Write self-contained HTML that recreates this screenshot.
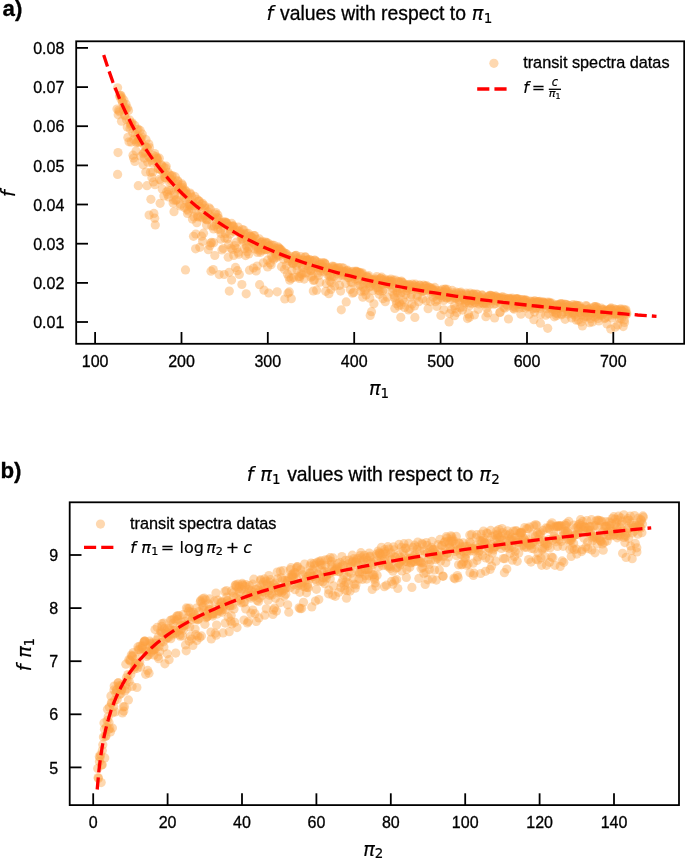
<!DOCTYPE html>
<html><head><meta charset="utf-8"><title>f values</title>
<style>html,body{margin:0;padding:0;background:#fff}svg{display:block;font-family:'Liberation Sans',sans-serif}text{stroke:#000;stroke-width:.3px}.m{stroke-width:.18px}</style>
</head><body>
<svg width="685" height="859" viewBox="0 0 685 859">
<rect width="685" height="859" fill="#fff"/>
<g fill="#fda342" fill-opacity="0.42">
<circle cx="117.0" cy="109.1" r="4.6"/>
<circle cx="117.6" cy="87.8" r="4.6"/>
<circle cx="118.0" cy="152.6" r="4.6"/>
<circle cx="118.2" cy="114.8" r="4.6"/>
<circle cx="118.7" cy="110.3" r="4.6"/>
<circle cx="119.4" cy="111.8" r="4.6"/>
<circle cx="119.5" cy="96.0" r="4.6"/>
<circle cx="120.3" cy="95.5" r="4.6"/>
<circle cx="120.8" cy="95.3" r="4.6"/>
<circle cx="121.1" cy="99.2" r="4.6"/>
<circle cx="121.5" cy="121.2" r="4.6"/>
<circle cx="121.9" cy="97.8" r="4.6"/>
<circle cx="122.4" cy="101.9" r="4.6"/>
<circle cx="122.9" cy="103.1" r="4.6"/>
<circle cx="123.4" cy="109.4" r="4.6"/>
<circle cx="123.9" cy="100.2" r="4.6"/>
<circle cx="124.6" cy="114.9" r="4.6"/>
<circle cx="124.9" cy="115.8" r="4.6"/>
<circle cx="125.3" cy="108.2" r="4.6"/>
<circle cx="126.0" cy="104.3" r="4.6"/>
<circle cx="126.1" cy="109.1" r="4.6"/>
<circle cx="126.5" cy="119.6" r="4.6"/>
<circle cx="127.2" cy="127.0" r="4.6"/>
<circle cx="127.4" cy="107.9" r="4.6"/>
<circle cx="127.8" cy="137.4" r="4.6"/>
<circle cx="128.5" cy="110.6" r="4.6"/>
<circle cx="129.0" cy="141.8" r="4.6"/>
<circle cx="129.6" cy="119.9" r="4.6"/>
<circle cx="130.0" cy="128.7" r="4.6"/>
<circle cx="130.4" cy="123.8" r="4.6"/>
<circle cx="130.8" cy="125.5" r="4.6"/>
<circle cx="131.2" cy="142.1" r="4.6"/>
<circle cx="131.5" cy="123.6" r="4.6"/>
<circle cx="132.1" cy="122.8" r="4.6"/>
<circle cx="132.8" cy="132.8" r="4.6"/>
<circle cx="133.0" cy="155.2" r="4.6"/>
<circle cx="133.6" cy="158.1" r="4.6"/>
<circle cx="133.9" cy="139.6" r="4.6"/>
<circle cx="134.7" cy="125.4" r="4.6"/>
<circle cx="134.9" cy="161.4" r="4.6"/>
<circle cx="135.4" cy="134.1" r="4.6"/>
<circle cx="136.1" cy="151.0" r="4.6"/>
<circle cx="136.4" cy="142.7" r="4.6"/>
<circle cx="137.0" cy="129.5" r="4.6"/>
<circle cx="137.4" cy="142.0" r="4.6"/>
<circle cx="137.9" cy="136.6" r="4.6"/>
<circle cx="138.1" cy="129.2" r="4.6"/>
<circle cx="138.8" cy="140.3" r="4.6"/>
<circle cx="139.2" cy="142.4" r="4.6"/>
<circle cx="139.8" cy="138.6" r="4.6"/>
<circle cx="140.1" cy="130.4" r="4.6"/>
<circle cx="140.6" cy="138.7" r="4.6"/>
<circle cx="140.9" cy="156.3" r="4.6"/>
<circle cx="141.5" cy="142.0" r="4.6"/>
<circle cx="141.9" cy="137.1" r="4.6"/>
<circle cx="142.3" cy="134.2" r="4.6"/>
<circle cx="143.1" cy="164.8" r="4.6"/>
<circle cx="143.3" cy="153.8" r="4.6"/>
<circle cx="144.1" cy="152.7" r="4.6"/>
<circle cx="144.3" cy="158.1" r="4.6"/>
<circle cx="144.8" cy="146.2" r="4.6"/>
<circle cx="145.3" cy="152.0" r="4.6"/>
<circle cx="145.8" cy="172.0" r="4.6"/>
<circle cx="146.0" cy="139.7" r="4.6"/>
<circle cx="146.6" cy="147.6" r="4.6"/>
<circle cx="147.0" cy="185.7" r="4.6"/>
<circle cx="147.5" cy="148.2" r="4.6"/>
<circle cx="147.8" cy="162.2" r="4.6"/>
<circle cx="148.7" cy="156.4" r="4.6"/>
<circle cx="148.8" cy="144.1" r="4.6"/>
<circle cx="149.5" cy="147.5" r="4.6"/>
<circle cx="149.8" cy="157.9" r="4.6"/>
<circle cx="150.5" cy="172.3" r="4.6"/>
<circle cx="150.9" cy="199.3" r="4.6"/>
<circle cx="151.1" cy="160.3" r="4.6"/>
<circle cx="151.9" cy="177.7" r="4.6"/>
<circle cx="152.4" cy="163.0" r="4.6"/>
<circle cx="152.8" cy="172.0" r="4.6"/>
<circle cx="153.2" cy="155.3" r="4.6"/>
<circle cx="153.4" cy="181.9" r="4.6"/>
<circle cx="153.9" cy="213.4" r="4.6"/>
<circle cx="154.7" cy="153.5" r="4.6"/>
<circle cx="155.0" cy="184.7" r="4.6"/>
<circle cx="155.3" cy="224.9" r="4.6"/>
<circle cx="156.1" cy="156.7" r="4.6"/>
<circle cx="156.4" cy="162.8" r="4.6"/>
<circle cx="156.9" cy="158.7" r="4.6"/>
<circle cx="157.2" cy="158.0" r="4.6"/>
<circle cx="157.7" cy="160.2" r="4.6"/>
<circle cx="158.1" cy="168.8" r="4.6"/>
<circle cx="158.5" cy="168.7" r="4.6"/>
<circle cx="159.3" cy="158.2" r="4.6"/>
<circle cx="159.6" cy="179.4" r="4.6"/>
<circle cx="160.1" cy="203.3" r="4.6"/>
<circle cx="160.5" cy="169.6" r="4.6"/>
<circle cx="161.1" cy="180.6" r="4.6"/>
<circle cx="161.3" cy="164.8" r="4.6"/>
<circle cx="161.9" cy="165.9" r="4.6"/>
<circle cx="162.2" cy="189.0" r="4.6"/>
<circle cx="162.7" cy="171.3" r="4.6"/>
<circle cx="163.5" cy="167.0" r="4.6"/>
<circle cx="163.9" cy="195.9" r="4.6"/>
<circle cx="164.2" cy="173.5" r="4.6"/>
<circle cx="164.7" cy="177.3" r="4.6"/>
<circle cx="165.4" cy="177.8" r="4.6"/>
<circle cx="165.6" cy="168.1" r="4.6"/>
<circle cx="166.2" cy="166.2" r="4.6"/>
<circle cx="166.7" cy="191.8" r="4.6"/>
<circle cx="167.0" cy="175.5" r="4.6"/>
<circle cx="167.5" cy="194.3" r="4.6"/>
<circle cx="168.1" cy="172.4" r="4.6"/>
<circle cx="168.6" cy="190.0" r="4.6"/>
<circle cx="168.7" cy="196.9" r="4.6"/>
<circle cx="169.6" cy="182.2" r="4.6"/>
<circle cx="169.6" cy="174.9" r="4.6"/>
<circle cx="170.4" cy="178.8" r="4.6"/>
<circle cx="170.9" cy="190.3" r="4.6"/>
<circle cx="171.0" cy="180.7" r="4.6"/>
<circle cx="171.6" cy="176.2" r="4.6"/>
<circle cx="172.3" cy="175.6" r="4.6"/>
<circle cx="172.4" cy="180.1" r="4.6"/>
<circle cx="173.1" cy="203.0" r="4.6"/>
<circle cx="173.7" cy="200.2" r="4.6"/>
<circle cx="174.0" cy="211.7" r="4.6"/>
<circle cx="174.6" cy="194.7" r="4.6"/>
<circle cx="174.8" cy="191.8" r="4.6"/>
<circle cx="175.3" cy="176.9" r="4.6"/>
<circle cx="175.8" cy="200.2" r="4.6"/>
<circle cx="176.2" cy="185.8" r="4.6"/>
<circle cx="176.7" cy="199.8" r="4.6"/>
<circle cx="177.5" cy="184.1" r="4.6"/>
<circle cx="177.7" cy="180.7" r="4.6"/>
<circle cx="178.1" cy="181.7" r="4.6"/>
<circle cx="178.5" cy="189.2" r="4.6"/>
<circle cx="179.3" cy="188.2" r="4.6"/>
<circle cx="179.5" cy="188.6" r="4.6"/>
<circle cx="180.3" cy="205.9" r="4.6"/>
<circle cx="180.5" cy="204.3" r="4.6"/>
<circle cx="181.0" cy="195.4" r="4.6"/>
<circle cx="181.6" cy="188.2" r="4.6"/>
<circle cx="182.0" cy="183.9" r="4.6"/>
<circle cx="182.4" cy="185.3" r="4.6"/>
<circle cx="182.8" cy="187.4" r="4.6"/>
<circle cx="183.5" cy="192.1" r="4.6"/>
<circle cx="183.7" cy="191.2" r="4.6"/>
<circle cx="184.4" cy="197.8" r="4.6"/>
<circle cx="184.5" cy="207.5" r="4.6"/>
<circle cx="185.1" cy="190.1" r="4.6"/>
<circle cx="185.6" cy="200.1" r="4.6"/>
<circle cx="186.3" cy="191.7" r="4.6"/>
<circle cx="186.4" cy="194.1" r="4.6"/>
<circle cx="187.1" cy="209.4" r="4.6"/>
<circle cx="187.5" cy="213.4" r="4.6"/>
<circle cx="188.0" cy="196.8" r="4.6"/>
<circle cx="188.4" cy="210.9" r="4.6"/>
<circle cx="189.1" cy="204.5" r="4.6"/>
<circle cx="189.2" cy="205.9" r="4.6"/>
<circle cx="189.7" cy="204.3" r="4.6"/>
<circle cx="190.1" cy="193.0" r="4.6"/>
<circle cx="190.5" cy="194.3" r="4.6"/>
<circle cx="191.0" cy="205.5" r="4.6"/>
<circle cx="191.8" cy="197.1" r="4.6"/>
<circle cx="192.3" cy="208.8" r="4.6"/>
<circle cx="192.4" cy="219.1" r="4.6"/>
<circle cx="193.1" cy="202.9" r="4.6"/>
<circle cx="193.5" cy="236.3" r="4.6"/>
<circle cx="194.0" cy="216.9" r="4.6"/>
<circle cx="194.5" cy="205.4" r="4.6"/>
<circle cx="194.8" cy="196.4" r="4.6"/>
<circle cx="195.6" cy="248.8" r="4.6"/>
<circle cx="195.8" cy="234.0" r="4.6"/>
<circle cx="196.3" cy="211.1" r="4.6"/>
<circle cx="196.8" cy="222.7" r="4.6"/>
<circle cx="197.1" cy="199.4" r="4.6"/>
<circle cx="197.5" cy="215.9" r="4.6"/>
<circle cx="198.1" cy="216.9" r="4.6"/>
<circle cx="198.7" cy="201.0" r="4.6"/>
<circle cx="199.2" cy="201.0" r="4.6"/>
<circle cx="199.6" cy="206.5" r="4.6"/>
<circle cx="199.8" cy="247.3" r="4.6"/>
<circle cx="200.6" cy="217.0" r="4.6"/>
<circle cx="201.1" cy="208.5" r="4.6"/>
<circle cx="201.6" cy="236.2" r="4.6"/>
<circle cx="201.9" cy="204.3" r="4.6"/>
<circle cx="202.5" cy="203.3" r="4.6"/>
<circle cx="202.6" cy="241.3" r="4.6"/>
<circle cx="203.0" cy="217.9" r="4.6"/>
<circle cx="203.5" cy="233.2" r="4.6"/>
<circle cx="204.0" cy="215.3" r="4.6"/>
<circle cx="204.5" cy="205.7" r="4.6"/>
<circle cx="204.9" cy="208.1" r="4.6"/>
<circle cx="205.6" cy="215.5" r="4.6"/>
<circle cx="205.8" cy="219.0" r="4.6"/>
<circle cx="206.5" cy="225.1" r="4.6"/>
<circle cx="206.8" cy="220.0" r="4.6"/>
<circle cx="207.5" cy="219.4" r="4.6"/>
<circle cx="207.7" cy="211.8" r="4.6"/>
<circle cx="208.3" cy="249.7" r="4.6"/>
<circle cx="209.0" cy="207.8" r="4.6"/>
<circle cx="209.3" cy="214.7" r="4.6"/>
<circle cx="209.9" cy="245.7" r="4.6"/>
<circle cx="210.3" cy="209.2" r="4.6"/>
<circle cx="210.7" cy="243.1" r="4.6"/>
<circle cx="211.0" cy="271.2" r="4.6"/>
<circle cx="211.6" cy="242.4" r="4.6"/>
<circle cx="211.8" cy="226.0" r="4.6"/>
<circle cx="212.7" cy="217.1" r="4.6"/>
<circle cx="213.2" cy="269.5" r="4.6"/>
<circle cx="213.6" cy="228.9" r="4.6"/>
<circle cx="213.7" cy="242.7" r="4.6"/>
<circle cx="214.3" cy="226.2" r="4.6"/>
<circle cx="214.8" cy="255.5" r="4.6"/>
<circle cx="215.1" cy="214.0" r="4.6"/>
<circle cx="215.8" cy="212.6" r="4.6"/>
<circle cx="216.4" cy="224.8" r="4.6"/>
<circle cx="216.6" cy="219.4" r="4.6"/>
<circle cx="217.3" cy="217.5" r="4.6"/>
<circle cx="217.8" cy="214.9" r="4.6"/>
<circle cx="217.9" cy="229.1" r="4.6"/>
<circle cx="218.7" cy="218.3" r="4.6"/>
<circle cx="219.2" cy="274.6" r="4.6"/>
<circle cx="219.3" cy="224.7" r="4.6"/>
<circle cx="220.0" cy="222.8" r="4.6"/>
<circle cx="220.5" cy="230.0" r="4.6"/>
<circle cx="220.9" cy="239.2" r="4.6"/>
<circle cx="221.1" cy="233.4" r="4.6"/>
<circle cx="221.9" cy="249.9" r="4.6"/>
<circle cx="222.3" cy="222.6" r="4.6"/>
<circle cx="222.9" cy="225.2" r="4.6"/>
<circle cx="223.3" cy="248.5" r="4.6"/>
<circle cx="223.6" cy="222.0" r="4.6"/>
<circle cx="224.2" cy="274.5" r="4.6"/>
<circle cx="224.8" cy="237.9" r="4.6"/>
<circle cx="225.2" cy="221.8" r="4.6"/>
<circle cx="225.4" cy="233.5" r="4.6"/>
<circle cx="225.8" cy="222.8" r="4.6"/>
<circle cx="226.5" cy="222.9" r="4.6"/>
<circle cx="226.8" cy="223.1" r="4.6"/>
<circle cx="227.4" cy="238.8" r="4.6"/>
<circle cx="228.0" cy="226.5" r="4.6"/>
<circle cx="228.2" cy="257.2" r="4.6"/>
<circle cx="228.6" cy="244.4" r="4.6"/>
<circle cx="229.2" cy="272.3" r="4.6"/>
<circle cx="229.8" cy="226.4" r="4.6"/>
<circle cx="230.0" cy="234.1" r="4.6"/>
<circle cx="230.6" cy="230.5" r="4.6"/>
<circle cx="230.9" cy="248.3" r="4.6"/>
<circle cx="231.6" cy="223.4" r="4.6"/>
<circle cx="232.2" cy="226.6" r="4.6"/>
<circle cx="232.4" cy="249.6" r="4.6"/>
<circle cx="232.9" cy="226.2" r="4.6"/>
<circle cx="233.4" cy="225.9" r="4.6"/>
<circle cx="233.7" cy="255.4" r="4.6"/>
<circle cx="234.2" cy="231.8" r="4.6"/>
<circle cx="234.7" cy="245.7" r="4.6"/>
<circle cx="235.2" cy="230.2" r="4.6"/>
<circle cx="235.5" cy="267.4" r="4.6"/>
<circle cx="236.3" cy="242.2" r="4.6"/>
<circle cx="236.7" cy="248.5" r="4.6"/>
<circle cx="237.0" cy="230.0" r="4.6"/>
<circle cx="237.4" cy="270.7" r="4.6"/>
<circle cx="238.2" cy="227.1" r="4.6"/>
<circle cx="238.3" cy="252.3" r="4.6"/>
<circle cx="238.8" cy="254.2" r="4.6"/>
<circle cx="239.3" cy="274.5" r="4.6"/>
<circle cx="239.7" cy="231.4" r="4.6"/>
<circle cx="240.5" cy="234.4" r="4.6"/>
<circle cx="240.7" cy="233.0" r="4.6"/>
<circle cx="241.2" cy="239.4" r="4.6"/>
<circle cx="241.9" cy="284.5" r="4.6"/>
<circle cx="242.3" cy="229.6" r="4.6"/>
<circle cx="242.5" cy="238.7" r="4.6"/>
<circle cx="243.1" cy="241.2" r="4.6"/>
<circle cx="243.8" cy="230.0" r="4.6"/>
<circle cx="244.0" cy="237.2" r="4.6"/>
<circle cx="244.6" cy="234.3" r="4.6"/>
<circle cx="244.8" cy="248.7" r="4.6"/>
<circle cx="245.6" cy="255.6" r="4.6"/>
<circle cx="246.1" cy="233.3" r="4.6"/>
<circle cx="246.5" cy="245.5" r="4.6"/>
<circle cx="246.9" cy="247.0" r="4.6"/>
<circle cx="247.3" cy="251.7" r="4.6"/>
<circle cx="247.6" cy="240.8" r="4.6"/>
<circle cx="248.3" cy="233.4" r="4.6"/>
<circle cx="248.8" cy="253.9" r="4.6"/>
<circle cx="249.0" cy="248.2" r="4.6"/>
<circle cx="249.5" cy="270.2" r="4.6"/>
<circle cx="250.1" cy="236.3" r="4.6"/>
<circle cx="250.7" cy="236.1" r="4.6"/>
<circle cx="251.2" cy="240.2" r="4.6"/>
<circle cx="251.3" cy="241.8" r="4.6"/>
<circle cx="251.8" cy="237.5" r="4.6"/>
<circle cx="252.6" cy="237.8" r="4.6"/>
<circle cx="253.0" cy="242.4" r="4.6"/>
<circle cx="253.5" cy="268.0" r="4.6"/>
<circle cx="254.0" cy="235.7" r="4.6"/>
<circle cx="254.5" cy="235.6" r="4.6"/>
<circle cx="254.9" cy="249.0" r="4.6"/>
<circle cx="255.3" cy="244.2" r="4.6"/>
<circle cx="255.6" cy="246.0" r="4.6"/>
<circle cx="256.2" cy="271.0" r="4.6"/>
<circle cx="256.5" cy="239.4" r="4.6"/>
<circle cx="257.2" cy="266.0" r="4.6"/>
<circle cx="257.6" cy="252.4" r="4.6"/>
<circle cx="258.1" cy="250.0" r="4.6"/>
<circle cx="258.4" cy="248.1" r="4.6"/>
<circle cx="258.9" cy="243.5" r="4.6"/>
<circle cx="259.3" cy="238.9" r="4.6"/>
<circle cx="259.6" cy="284.7" r="4.6"/>
<circle cx="260.5" cy="252.3" r="4.6"/>
<circle cx="260.8" cy="242.4" r="4.6"/>
<circle cx="261.2" cy="250.5" r="4.6"/>
<circle cx="261.7" cy="242.5" r="4.6"/>
<circle cx="262.3" cy="241.3" r="4.6"/>
<circle cx="262.6" cy="244.7" r="4.6"/>
<circle cx="263.3" cy="262.8" r="4.6"/>
<circle cx="263.8" cy="248.6" r="4.6"/>
<circle cx="264.0" cy="290.2" r="4.6"/>
<circle cx="264.3" cy="250.0" r="4.6"/>
<circle cx="265.1" cy="243.5" r="4.6"/>
<circle cx="265.6" cy="249.6" r="4.6"/>
<circle cx="265.7" cy="242.1" r="4.6"/>
<circle cx="266.4" cy="242.7" r="4.6"/>
<circle cx="267.0" cy="249.6" r="4.6"/>
<circle cx="267.5" cy="260.2" r="4.6"/>
<circle cx="267.6" cy="266.9" r="4.6"/>
<circle cx="268.0" cy="243.1" r="4.6"/>
<circle cx="268.9" cy="248.8" r="4.6"/>
<circle cx="269.0" cy="246.0" r="4.6"/>
<circle cx="269.4" cy="246.7" r="4.6"/>
<circle cx="270.1" cy="262.9" r="4.6"/>
<circle cx="270.5" cy="245.0" r="4.6"/>
<circle cx="271.1" cy="264.7" r="4.6"/>
<circle cx="271.3" cy="255.8" r="4.6"/>
<circle cx="272.1" cy="245.1" r="4.6"/>
<circle cx="272.2" cy="258.0" r="4.6"/>
<circle cx="273.0" cy="250.3" r="4.6"/>
<circle cx="273.1" cy="249.6" r="4.6"/>
<circle cx="273.8" cy="259.2" r="4.6"/>
<circle cx="274.0" cy="245.3" r="4.6"/>
<circle cx="274.6" cy="248.0" r="4.6"/>
<circle cx="275.1" cy="250.1" r="4.6"/>
<circle cx="275.7" cy="253.3" r="4.6"/>
<circle cx="276.1" cy="256.2" r="4.6"/>
<circle cx="276.3" cy="257.6" r="4.6"/>
<circle cx="277.2" cy="291.8" r="4.6"/>
<circle cx="277.7" cy="254.5" r="4.6"/>
<circle cx="278.1" cy="246.9" r="4.6"/>
<circle cx="278.3" cy="248.3" r="4.6"/>
<circle cx="278.8" cy="255.9" r="4.6"/>
<circle cx="279.2" cy="248.1" r="4.6"/>
<circle cx="279.6" cy="249.7" r="4.6"/>
<circle cx="280.1" cy="249.8" r="4.6"/>
<circle cx="280.7" cy="249.3" r="4.6"/>
<circle cx="281.0" cy="251.7" r="4.6"/>
<circle cx="281.5" cy="266.7" r="4.6"/>
<circle cx="282.3" cy="251.1" r="4.6"/>
<circle cx="282.6" cy="253.7" r="4.6"/>
<circle cx="282.9" cy="252.9" r="4.6"/>
<circle cx="283.6" cy="259.2" r="4.6"/>
<circle cx="283.9" cy="252.6" r="4.6"/>
<circle cx="284.5" cy="269.4" r="4.6"/>
<circle cx="284.8" cy="299.0" r="4.6"/>
<circle cx="285.4" cy="255.3" r="4.6"/>
<circle cx="285.9" cy="253.7" r="4.6"/>
<circle cx="286.3" cy="265.6" r="4.6"/>
<circle cx="286.7" cy="254.0" r="4.6"/>
<circle cx="287.4" cy="273.9" r="4.6"/>
<circle cx="287.9" cy="258.7" r="4.6"/>
<circle cx="288.0" cy="293.2" r="4.6"/>
<circle cx="288.5" cy="261.1" r="4.6"/>
<circle cx="288.9" cy="277.1" r="4.6"/>
<circle cx="289.8" cy="280.2" r="4.6"/>
<circle cx="290.2" cy="258.4" r="4.6"/>
<circle cx="290.4" cy="256.4" r="4.6"/>
<circle cx="291.2" cy="278.4" r="4.6"/>
<circle cx="291.3" cy="298.7" r="4.6"/>
<circle cx="291.9" cy="270.6" r="4.6"/>
<circle cx="292.3" cy="262.4" r="4.6"/>
<circle cx="293.0" cy="263.7" r="4.6"/>
<circle cx="293.0" cy="263.4" r="4.6"/>
<circle cx="293.6" cy="277.4" r="4.6"/>
<circle cx="294.2" cy="262.6" r="4.6"/>
<circle cx="294.5" cy="256.2" r="4.6"/>
<circle cx="295.0" cy="260.6" r="4.6"/>
<circle cx="295.6" cy="255.7" r="4.6"/>
<circle cx="296.2" cy="255.4" r="4.6"/>
<circle cx="296.6" cy="265.4" r="4.6"/>
<circle cx="297.1" cy="269.8" r="4.6"/>
<circle cx="297.6" cy="258.0" r="4.6"/>
<circle cx="298.0" cy="259.6" r="4.6"/>
<circle cx="298.5" cy="276.8" r="4.6"/>
<circle cx="298.9" cy="263.1" r="4.6"/>
<circle cx="299.4" cy="278.4" r="4.6"/>
<circle cx="299.7" cy="276.5" r="4.6"/>
<circle cx="300.1" cy="260.1" r="4.6"/>
<circle cx="300.8" cy="256.5" r="4.6"/>
<circle cx="301.0" cy="273.3" r="4.6"/>
<circle cx="301.8" cy="264.9" r="4.6"/>
<circle cx="302.1" cy="274.5" r="4.6"/>
<circle cx="302.5" cy="267.6" r="4.6"/>
<circle cx="303.2" cy="260.4" r="4.6"/>
<circle cx="303.3" cy="259.9" r="4.6"/>
<circle cx="303.9" cy="272.7" r="4.6"/>
<circle cx="304.2" cy="279.1" r="4.6"/>
<circle cx="305.1" cy="257.1" r="4.6"/>
<circle cx="305.4" cy="256.9" r="4.6"/>
<circle cx="305.9" cy="265.0" r="4.6"/>
<circle cx="306.2" cy="273.0" r="4.6"/>
<circle cx="306.9" cy="260.9" r="4.6"/>
<circle cx="307.3" cy="260.0" r="4.6"/>
<circle cx="307.7" cy="259.8" r="4.6"/>
<circle cx="308.3" cy="265.5" r="4.6"/>
<circle cx="308.5" cy="269.2" r="4.6"/>
<circle cx="309.0" cy="263.8" r="4.6"/>
<circle cx="309.6" cy="259.5" r="4.6"/>
<circle cx="310.1" cy="260.1" r="4.6"/>
<circle cx="310.4" cy="270.5" r="4.6"/>
<circle cx="311.0" cy="277.2" r="4.6"/>
<circle cx="311.2" cy="270.7" r="4.6"/>
<circle cx="311.8" cy="268.8" r="4.6"/>
<circle cx="312.4" cy="260.9" r="4.6"/>
<circle cx="312.5" cy="276.2" r="4.6"/>
<circle cx="313.3" cy="291.0" r="4.6"/>
<circle cx="313.5" cy="280.5" r="4.6"/>
<circle cx="314.4" cy="280.0" r="4.6"/>
<circle cx="314.6" cy="260.0" r="4.6"/>
<circle cx="315.0" cy="260.4" r="4.6"/>
<circle cx="315.6" cy="267.4" r="4.6"/>
<circle cx="316.0" cy="266.2" r="4.6"/>
<circle cx="316.6" cy="290.2" r="4.6"/>
<circle cx="316.7" cy="261.7" r="4.6"/>
<circle cx="317.4" cy="266.8" r="4.6"/>
<circle cx="317.9" cy="273.0" r="4.6"/>
<circle cx="318.5" cy="267.7" r="4.6"/>
<circle cx="318.6" cy="275.6" r="4.6"/>
<circle cx="319.2" cy="262.7" r="4.6"/>
<circle cx="319.8" cy="282.2" r="4.6"/>
<circle cx="320.2" cy="264.6" r="4.6"/>
<circle cx="320.4" cy="271.0" r="4.6"/>
<circle cx="321.1" cy="263.8" r="4.6"/>
<circle cx="321.4" cy="268.2" r="4.6"/>
<circle cx="321.9" cy="268.3" r="4.6"/>
<circle cx="322.7" cy="262.7" r="4.6"/>
<circle cx="322.8" cy="266.5" r="4.6"/>
<circle cx="323.4" cy="267.3" r="4.6"/>
<circle cx="324.0" cy="271.7" r="4.6"/>
<circle cx="324.4" cy="262.9" r="4.6"/>
<circle cx="324.8" cy="263.5" r="4.6"/>
<circle cx="325.4" cy="264.2" r="4.6"/>
<circle cx="325.7" cy="291.3" r="4.6"/>
<circle cx="326.3" cy="283.4" r="4.6"/>
<circle cx="326.8" cy="270.6" r="4.6"/>
<circle cx="327.2" cy="270.9" r="4.6"/>
<circle cx="327.7" cy="274.8" r="4.6"/>
<circle cx="328.0" cy="267.5" r="4.6"/>
<circle cx="328.6" cy="268.5" r="4.6"/>
<circle cx="328.9" cy="293.7" r="4.6"/>
<circle cx="329.6" cy="276.2" r="4.6"/>
<circle cx="329.9" cy="281.2" r="4.6"/>
<circle cx="330.4" cy="275.2" r="4.6"/>
<circle cx="331.0" cy="289.5" r="4.6"/>
<circle cx="331.3" cy="282.8" r="4.6"/>
<circle cx="331.7" cy="276.9" r="4.6"/>
<circle cx="332.4" cy="266.8" r="4.6"/>
<circle cx="332.6" cy="266.2" r="4.6"/>
<circle cx="333.3" cy="268.3" r="4.6"/>
<circle cx="333.8" cy="276.4" r="4.6"/>
<circle cx="334.1" cy="266.7" r="4.6"/>
<circle cx="334.7" cy="286.1" r="4.6"/>
<circle cx="334.8" cy="269.8" r="4.6"/>
<circle cx="335.4" cy="269.3" r="4.6"/>
<circle cx="336.1" cy="270.9" r="4.6"/>
<circle cx="336.5" cy="268.4" r="4.6"/>
<circle cx="336.9" cy="271.5" r="4.6"/>
<circle cx="337.4" cy="273.8" r="4.6"/>
<circle cx="337.9" cy="278.0" r="4.6"/>
<circle cx="338.3" cy="268.2" r="4.6"/>
<circle cx="338.7" cy="267.5" r="4.6"/>
<circle cx="339.1" cy="270.8" r="4.6"/>
<circle cx="339.6" cy="285.3" r="4.6"/>
<circle cx="340.0" cy="272.1" r="4.6"/>
<circle cx="340.6" cy="291.1" r="4.6"/>
<circle cx="341.3" cy="309.8" r="4.6"/>
<circle cx="341.5" cy="267.5" r="4.6"/>
<circle cx="342.0" cy="275.4" r="4.6"/>
<circle cx="342.4" cy="271.9" r="4.6"/>
<circle cx="343.0" cy="271.1" r="4.6"/>
<circle cx="343.6" cy="268.2" r="4.6"/>
<circle cx="344.0" cy="275.2" r="4.6"/>
<circle cx="344.2" cy="272.3" r="4.6"/>
<circle cx="344.7" cy="272.0" r="4.6"/>
<circle cx="345.4" cy="274.9" r="4.6"/>
<circle cx="345.7" cy="283.4" r="4.6"/>
<circle cx="346.2" cy="301.9" r="4.6"/>
<circle cx="346.4" cy="270.9" r="4.6"/>
<circle cx="347.3" cy="271.0" r="4.6"/>
<circle cx="347.5" cy="270.2" r="4.6"/>
<circle cx="348.0" cy="277.6" r="4.6"/>
<circle cx="348.3" cy="273.0" r="4.6"/>
<circle cx="348.9" cy="277.8" r="4.6"/>
<circle cx="349.6" cy="275.8" r="4.6"/>
<circle cx="350.0" cy="273.0" r="4.6"/>
<circle cx="350.3" cy="289.4" r="4.6"/>
<circle cx="350.9" cy="282.1" r="4.6"/>
<circle cx="351.2" cy="274.2" r="4.6"/>
<circle cx="351.7" cy="271.8" r="4.6"/>
<circle cx="352.2" cy="282.8" r="4.6"/>
<circle cx="352.5" cy="293.2" r="4.6"/>
<circle cx="353.0" cy="271.3" r="4.6"/>
<circle cx="353.7" cy="292.4" r="4.6"/>
<circle cx="354.2" cy="273.4" r="4.6"/>
<circle cx="354.3" cy="276.2" r="4.6"/>
<circle cx="355.1" cy="278.9" r="4.6"/>
<circle cx="355.6" cy="275.9" r="4.6"/>
<circle cx="355.9" cy="271.2" r="4.6"/>
<circle cx="356.2" cy="271.9" r="4.6"/>
<circle cx="356.9" cy="271.6" r="4.6"/>
<circle cx="357.2" cy="272.1" r="4.6"/>
<circle cx="357.8" cy="280.3" r="4.6"/>
<circle cx="358.2" cy="286.1" r="4.6"/>
<circle cx="358.8" cy="272.5" r="4.6"/>
<circle cx="359.0" cy="278.9" r="4.6"/>
<circle cx="359.6" cy="272.3" r="4.6"/>
<circle cx="360.1" cy="285.0" r="4.6"/>
<circle cx="360.6" cy="274.8" r="4.6"/>
<circle cx="360.9" cy="291.3" r="4.6"/>
<circle cx="361.7" cy="273.6" r="4.6"/>
<circle cx="361.8" cy="274.8" r="4.6"/>
<circle cx="362.3" cy="272.8" r="4.6"/>
<circle cx="362.8" cy="297.2" r="4.6"/>
<circle cx="363.1" cy="287.3" r="4.6"/>
<circle cx="363.8" cy="283.1" r="4.6"/>
<circle cx="364.4" cy="291.3" r="4.6"/>
<circle cx="364.8" cy="280.0" r="4.6"/>
<circle cx="365.0" cy="278.3" r="4.6"/>
<circle cx="365.5" cy="290.2" r="4.6"/>
<circle cx="366.0" cy="294.9" r="4.6"/>
<circle cx="366.7" cy="276.7" r="4.6"/>
<circle cx="367.0" cy="283.2" r="4.6"/>
<circle cx="367.7" cy="277.5" r="4.6"/>
<circle cx="368.0" cy="276.8" r="4.6"/>
<circle cx="368.5" cy="275.6" r="4.6"/>
<circle cx="369.0" cy="283.3" r="4.6"/>
<circle cx="369.5" cy="287.1" r="4.6"/>
<circle cx="369.8" cy="298.2" r="4.6"/>
<circle cx="370.2" cy="315.5" r="4.6"/>
<circle cx="370.7" cy="286.1" r="4.6"/>
<circle cx="371.2" cy="279.8" r="4.6"/>
<circle cx="371.5" cy="311.7" r="4.6"/>
<circle cx="372.1" cy="283.1" r="4.6"/>
<circle cx="372.7" cy="280.0" r="4.6"/>
<circle cx="372.9" cy="290.6" r="4.6"/>
<circle cx="373.4" cy="280.2" r="4.6"/>
<circle cx="373.9" cy="303.8" r="4.6"/>
<circle cx="374.4" cy="279.9" r="4.6"/>
<circle cx="375.1" cy="278.9" r="4.6"/>
<circle cx="375.2" cy="282.0" r="4.6"/>
<circle cx="375.7" cy="285.0" r="4.6"/>
<circle cx="376.2" cy="287.4" r="4.6"/>
<circle cx="376.8" cy="276.5" r="4.6"/>
<circle cx="377.0" cy="279.9" r="4.6"/>
<circle cx="377.7" cy="283.2" r="4.6"/>
<circle cx="378.0" cy="287.7" r="4.6"/>
<circle cx="378.5" cy="290.4" r="4.6"/>
<circle cx="379.2" cy="294.3" r="4.6"/>
<circle cx="379.4" cy="280.1" r="4.6"/>
<circle cx="380.1" cy="291.3" r="4.6"/>
<circle cx="380.5" cy="278.4" r="4.6"/>
<circle cx="380.9" cy="278.9" r="4.6"/>
<circle cx="381.6" cy="277.2" r="4.6"/>
<circle cx="381.7" cy="284.3" r="4.6"/>
<circle cx="382.6" cy="290.7" r="4.6"/>
<circle cx="383.0" cy="298.7" r="4.6"/>
<circle cx="383.4" cy="280.2" r="4.6"/>
<circle cx="383.5" cy="284.2" r="4.6"/>
<circle cx="384.3" cy="289.1" r="4.6"/>
<circle cx="384.7" cy="279.0" r="4.6"/>
<circle cx="385.3" cy="301.7" r="4.6"/>
<circle cx="385.5" cy="283.3" r="4.6"/>
<circle cx="386.3" cy="282.6" r="4.6"/>
<circle cx="386.7" cy="281.4" r="4.6"/>
<circle cx="386.8" cy="280.3" r="4.6"/>
<circle cx="387.4" cy="297.2" r="4.6"/>
<circle cx="387.7" cy="283.3" r="4.6"/>
<circle cx="388.5" cy="283.8" r="4.6"/>
<circle cx="389.0" cy="280.2" r="4.6"/>
<circle cx="389.5" cy="284.0" r="4.6"/>
<circle cx="389.8" cy="281.1" r="4.6"/>
<circle cx="390.3" cy="285.2" r="4.6"/>
<circle cx="390.8" cy="279.0" r="4.6"/>
<circle cx="391.2" cy="284.5" r="4.6"/>
<circle cx="391.8" cy="282.0" r="4.6"/>
<circle cx="392.2" cy="281.6" r="4.6"/>
<circle cx="392.5" cy="292.1" r="4.6"/>
<circle cx="393.0" cy="288.6" r="4.6"/>
<circle cx="393.3" cy="280.2" r="4.6"/>
<circle cx="394.1" cy="295.1" r="4.6"/>
<circle cx="394.5" cy="297.5" r="4.6"/>
<circle cx="394.8" cy="308.4" r="4.6"/>
<circle cx="395.5" cy="280.0" r="4.6"/>
<circle cx="395.9" cy="300.3" r="4.6"/>
<circle cx="396.2" cy="287.3" r="4.6"/>
<circle cx="396.5" cy="303.7" r="4.6"/>
<circle cx="397.0" cy="291.3" r="4.6"/>
<circle cx="397.5" cy="292.8" r="4.6"/>
<circle cx="398.0" cy="281.6" r="4.6"/>
<circle cx="398.6" cy="305.9" r="4.6"/>
<circle cx="399.3" cy="281.9" r="4.6"/>
<circle cx="399.4" cy="302.3" r="4.6"/>
<circle cx="400.2" cy="288.4" r="4.6"/>
<circle cx="400.5" cy="293.6" r="4.6"/>
<circle cx="401.1" cy="304.9" r="4.6"/>
<circle cx="401.3" cy="281.1" r="4.6"/>
<circle cx="401.6" cy="282.1" r="4.6"/>
<circle cx="402.4" cy="292.4" r="4.6"/>
<circle cx="402.7" cy="299.8" r="4.6"/>
<circle cx="403.1" cy="282.7" r="4.6"/>
<circle cx="403.8" cy="284.0" r="4.6"/>
<circle cx="404.3" cy="302.2" r="4.6"/>
<circle cx="404.5" cy="307.4" r="4.6"/>
<circle cx="405.0" cy="285.7" r="4.6"/>
<circle cx="405.8" cy="294.5" r="4.6"/>
<circle cx="405.9" cy="285.3" r="4.6"/>
<circle cx="406.6" cy="290.7" r="4.6"/>
<circle cx="406.8" cy="287.7" r="4.6"/>
<circle cx="407.6" cy="288.3" r="4.6"/>
<circle cx="407.7" cy="284.6" r="4.6"/>
<circle cx="408.4" cy="286.1" r="4.6"/>
<circle cx="408.6" cy="309.9" r="4.6"/>
<circle cx="409.3" cy="284.4" r="4.6"/>
<circle cx="409.9" cy="285.3" r="4.6"/>
<circle cx="410.0" cy="308.8" r="4.6"/>
<circle cx="410.6" cy="297.2" r="4.6"/>
<circle cx="411.3" cy="294.7" r="4.6"/>
<circle cx="411.6" cy="289.3" r="4.6"/>
<circle cx="412.0" cy="303.9" r="4.6"/>
<circle cx="412.6" cy="284.2" r="4.6"/>
<circle cx="413.0" cy="288.1" r="4.6"/>
<circle cx="413.6" cy="287.2" r="4.6"/>
<circle cx="413.8" cy="285.6" r="4.6"/>
<circle cx="414.5" cy="305.9" r="4.6"/>
<circle cx="414.9" cy="317.4" r="4.6"/>
<circle cx="415.4" cy="284.2" r="4.6"/>
<circle cx="415.7" cy="286.1" r="4.6"/>
<circle cx="416.3" cy="288.2" r="4.6"/>
<circle cx="416.8" cy="287.1" r="4.6"/>
<circle cx="417.1" cy="297.2" r="4.6"/>
<circle cx="417.4" cy="295.3" r="4.6"/>
<circle cx="418.3" cy="289.7" r="4.6"/>
<circle cx="418.7" cy="301.7" r="4.6"/>
<circle cx="418.9" cy="288.9" r="4.6"/>
<circle cx="419.6" cy="285.0" r="4.6"/>
<circle cx="419.8" cy="285.3" r="4.6"/>
<circle cx="420.4" cy="288.3" r="4.6"/>
<circle cx="421.0" cy="287.2" r="4.6"/>
<circle cx="421.3" cy="288.6" r="4.6"/>
<circle cx="421.7" cy="289.9" r="4.6"/>
<circle cx="422.2" cy="291.3" r="4.6"/>
<circle cx="422.5" cy="298.8" r="4.6"/>
<circle cx="423.1" cy="291.0" r="4.6"/>
<circle cx="423.6" cy="285.2" r="4.6"/>
<circle cx="424.0" cy="290.8" r="4.6"/>
<circle cx="424.4" cy="288.5" r="4.6"/>
<circle cx="425.0" cy="286.1" r="4.6"/>
<circle cx="425.4" cy="286.3" r="4.6"/>
<circle cx="426.1" cy="300.8" r="4.6"/>
<circle cx="426.6" cy="285.7" r="4.6"/>
<circle cx="426.8" cy="288.5" r="4.6"/>
<circle cx="427.4" cy="289.2" r="4.6"/>
<circle cx="427.8" cy="288.6" r="4.6"/>
<circle cx="428.1" cy="308.7" r="4.6"/>
<circle cx="428.6" cy="287.0" r="4.6"/>
<circle cx="429.4" cy="290.7" r="4.6"/>
<circle cx="429.7" cy="287.5" r="4.6"/>
<circle cx="430.3" cy="293.1" r="4.6"/>
<circle cx="430.4" cy="301.6" r="4.6"/>
<circle cx="431.1" cy="288.1" r="4.6"/>
<circle cx="431.7" cy="289.7" r="4.6"/>
<circle cx="432.2" cy="291.2" r="4.6"/>
<circle cx="432.2" cy="289.9" r="4.6"/>
<circle cx="432.9" cy="288.9" r="4.6"/>
<circle cx="433.3" cy="297.2" r="4.6"/>
<circle cx="434.0" cy="290.4" r="4.6"/>
<circle cx="434.1" cy="291.6" r="4.6"/>
<circle cx="434.7" cy="287.4" r="4.6"/>
<circle cx="435.4" cy="301.7" r="4.6"/>
<circle cx="435.7" cy="295.6" r="4.6"/>
<circle cx="436.2" cy="290.4" r="4.6"/>
<circle cx="436.9" cy="306.4" r="4.6"/>
<circle cx="437.0" cy="294.5" r="4.6"/>
<circle cx="437.4" cy="300.0" r="4.6"/>
<circle cx="438.0" cy="294.1" r="4.6"/>
<circle cx="438.3" cy="293.1" r="4.6"/>
<circle cx="438.8" cy="294.4" r="4.6"/>
<circle cx="439.5" cy="290.6" r="4.6"/>
<circle cx="440.1" cy="295.4" r="4.6"/>
<circle cx="440.4" cy="291.4" r="4.6"/>
<circle cx="440.9" cy="315.4" r="4.6"/>
<circle cx="441.2" cy="295.3" r="4.6"/>
<circle cx="441.8" cy="297.8" r="4.6"/>
<circle cx="442.3" cy="289.4" r="4.6"/>
<circle cx="442.7" cy="296.2" r="4.6"/>
<circle cx="443.3" cy="292.4" r="4.6"/>
<circle cx="443.6" cy="300.4" r="4.6"/>
<circle cx="443.9" cy="309.8" r="4.6"/>
<circle cx="444.6" cy="292.3" r="4.6"/>
<circle cx="445.0" cy="289.4" r="4.6"/>
<circle cx="445.3" cy="289.2" r="4.6"/>
<circle cx="446.0" cy="290.8" r="4.6"/>
<circle cx="446.5" cy="297.4" r="4.6"/>
<circle cx="446.7" cy="298.1" r="4.6"/>
<circle cx="447.3" cy="289.4" r="4.6"/>
<circle cx="447.9" cy="295.3" r="4.6"/>
<circle cx="448.2" cy="296.8" r="4.6"/>
<circle cx="448.6" cy="293.2" r="4.6"/>
<circle cx="449.1" cy="321.9" r="4.6"/>
<circle cx="449.7" cy="313.6" r="4.6"/>
<circle cx="450.2" cy="297.4" r="4.6"/>
<circle cx="450.6" cy="299.6" r="4.6"/>
<circle cx="450.9" cy="294.8" r="4.6"/>
<circle cx="451.6" cy="309.6" r="4.6"/>
<circle cx="452.2" cy="290.4" r="4.6"/>
<circle cx="452.2" cy="292.8" r="4.6"/>
<circle cx="452.8" cy="294.9" r="4.6"/>
<circle cx="453.2" cy="297.1" r="4.6"/>
<circle cx="454.0" cy="295.2" r="4.6"/>
<circle cx="454.5" cy="305.7" r="4.6"/>
<circle cx="454.5" cy="315.7" r="4.6"/>
<circle cx="455.1" cy="308.8" r="4.6"/>
<circle cx="455.5" cy="298.0" r="4.6"/>
<circle cx="456.1" cy="292.2" r="4.6"/>
<circle cx="456.8" cy="293.8" r="4.6"/>
<circle cx="456.9" cy="312.5" r="4.6"/>
<circle cx="457.4" cy="299.1" r="4.6"/>
<circle cx="458.0" cy="295.9" r="4.6"/>
<circle cx="458.5" cy="297.3" r="4.6"/>
<circle cx="459.0" cy="292.5" r="4.6"/>
<circle cx="459.4" cy="301.7" r="4.6"/>
<circle cx="459.7" cy="300.2" r="4.6"/>
<circle cx="460.2" cy="307.7" r="4.6"/>
<circle cx="461.0" cy="292.2" r="4.6"/>
<circle cx="461.4" cy="295.1" r="4.6"/>
<circle cx="461.5" cy="293.5" r="4.6"/>
<circle cx="462.3" cy="295.2" r="4.6"/>
<circle cx="462.5" cy="310.1" r="4.6"/>
<circle cx="463.2" cy="297.2" r="4.6"/>
<circle cx="463.3" cy="307.0" r="4.6"/>
<circle cx="464.2" cy="299.2" r="4.6"/>
<circle cx="464.3" cy="299.3" r="4.6"/>
<circle cx="464.9" cy="298.6" r="4.6"/>
<circle cx="465.5" cy="302.8" r="4.6"/>
<circle cx="465.9" cy="300.9" r="4.6"/>
<circle cx="466.2" cy="293.0" r="4.6"/>
<circle cx="466.6" cy="294.4" r="4.6"/>
<circle cx="467.2" cy="295.7" r="4.6"/>
<circle cx="467.5" cy="318.6" r="4.6"/>
<circle cx="468.1" cy="300.6" r="4.6"/>
<circle cx="468.5" cy="314.1" r="4.6"/>
<circle cx="469.1" cy="302.9" r="4.6"/>
<circle cx="469.5" cy="305.7" r="4.6"/>
<circle cx="470.1" cy="293.0" r="4.6"/>
<circle cx="470.4" cy="294.9" r="4.6"/>
<circle cx="470.8" cy="298.0" r="4.6"/>
<circle cx="471.4" cy="300.6" r="4.6"/>
<circle cx="472.0" cy="303.5" r="4.6"/>
<circle cx="472.3" cy="294.9" r="4.6"/>
<circle cx="472.8" cy="300.6" r="4.6"/>
<circle cx="473.4" cy="293.9" r="4.6"/>
<circle cx="473.7" cy="294.3" r="4.6"/>
<circle cx="474.4" cy="315.0" r="4.6"/>
<circle cx="474.9" cy="302.3" r="4.6"/>
<circle cx="475.1" cy="302.7" r="4.6"/>
<circle cx="475.7" cy="296.9" r="4.6"/>
<circle cx="476.0" cy="299.8" r="4.6"/>
<circle cx="476.4" cy="294.0" r="4.6"/>
<circle cx="477.0" cy="300.2" r="4.6"/>
<circle cx="477.5" cy="294.3" r="4.6"/>
<circle cx="478.2" cy="309.3" r="4.6"/>
<circle cx="478.2" cy="299.7" r="4.6"/>
<circle cx="479.0" cy="303.9" r="4.6"/>
<circle cx="479.3" cy="296.8" r="4.6"/>
<circle cx="479.6" cy="299.7" r="4.6"/>
<circle cx="480.5" cy="302.4" r="4.6"/>
<circle cx="480.8" cy="300.5" r="4.6"/>
<circle cx="481.0" cy="298.5" r="4.6"/>
<circle cx="481.9" cy="299.7" r="4.6"/>
<circle cx="481.9" cy="295.2" r="4.6"/>
<circle cx="482.4" cy="295.2" r="4.6"/>
<circle cx="483.0" cy="303.0" r="4.6"/>
<circle cx="483.7" cy="303.9" r="4.6"/>
<circle cx="483.8" cy="297.0" r="4.6"/>
<circle cx="484.6" cy="299.2" r="4.6"/>
<circle cx="485.0" cy="298.9" r="4.6"/>
<circle cx="485.2" cy="303.0" r="4.6"/>
<circle cx="485.9" cy="316.7" r="4.6"/>
<circle cx="486.3" cy="304.1" r="4.6"/>
<circle cx="486.8" cy="307.9" r="4.6"/>
<circle cx="487.3" cy="300.0" r="4.6"/>
<circle cx="487.8" cy="313.0" r="4.6"/>
<circle cx="488.4" cy="296.3" r="4.6"/>
<circle cx="488.5" cy="296.9" r="4.6"/>
<circle cx="489.2" cy="299.6" r="4.6"/>
<circle cx="489.5" cy="295.4" r="4.6"/>
<circle cx="490.1" cy="304.3" r="4.6"/>
<circle cx="490.7" cy="295.3" r="4.6"/>
<circle cx="491.2" cy="300.7" r="4.6"/>
<circle cx="491.3" cy="295.5" r="4.6"/>
<circle cx="491.8" cy="298.6" r="4.6"/>
<circle cx="492.5" cy="296.6" r="4.6"/>
<circle cx="493.0" cy="296.8" r="4.6"/>
<circle cx="493.2" cy="299.5" r="4.6"/>
<circle cx="493.9" cy="304.2" r="4.6"/>
<circle cx="494.1" cy="297.0" r="4.6"/>
<circle cx="494.6" cy="318.0" r="4.6"/>
<circle cx="495.2" cy="296.2" r="4.6"/>
<circle cx="495.6" cy="303.7" r="4.6"/>
<circle cx="496.0" cy="296.1" r="4.6"/>
<circle cx="496.5" cy="300.8" r="4.6"/>
<circle cx="496.9" cy="300.9" r="4.6"/>
<circle cx="497.3" cy="297.9" r="4.6"/>
<circle cx="497.7" cy="298.2" r="4.6"/>
<circle cx="498.5" cy="299.0" r="4.6"/>
<circle cx="498.9" cy="298.5" r="4.6"/>
<circle cx="499.4" cy="297.7" r="4.6"/>
<circle cx="499.9" cy="312.6" r="4.6"/>
<circle cx="500.1" cy="312.2" r="4.6"/>
<circle cx="500.6" cy="303.6" r="4.6"/>
<circle cx="501.0" cy="298.7" r="4.6"/>
<circle cx="501.5" cy="297.0" r="4.6"/>
<circle cx="502.2" cy="298.9" r="4.6"/>
<circle cx="502.5" cy="300.7" r="4.6"/>
<circle cx="502.9" cy="296.9" r="4.6"/>
<circle cx="503.5" cy="300.5" r="4.6"/>
<circle cx="503.8" cy="307.4" r="4.6"/>
<circle cx="504.2" cy="299.5" r="4.6"/>
<circle cx="505.0" cy="308.1" r="4.6"/>
<circle cx="505.4" cy="297.9" r="4.6"/>
<circle cx="505.7" cy="299.3" r="4.6"/>
<circle cx="506.3" cy="304.5" r="4.6"/>
<circle cx="506.5" cy="299.9" r="4.6"/>
<circle cx="507.1" cy="299.2" r="4.6"/>
<circle cx="507.7" cy="305.9" r="4.6"/>
<circle cx="508.0" cy="301.3" r="4.6"/>
<circle cx="508.5" cy="319.0" r="4.6"/>
<circle cx="509.1" cy="298.6" r="4.6"/>
<circle cx="509.5" cy="298.3" r="4.6"/>
<circle cx="509.8" cy="299.8" r="4.6"/>
<circle cx="510.5" cy="300.2" r="4.6"/>
<circle cx="510.7" cy="301.3" r="4.6"/>
<circle cx="511.6" cy="302.7" r="4.6"/>
<circle cx="511.7" cy="299.3" r="4.6"/>
<circle cx="512.2" cy="298.1" r="4.6"/>
<circle cx="512.6" cy="299.4" r="4.6"/>
<circle cx="513.4" cy="308.3" r="4.6"/>
<circle cx="513.6" cy="306.2" r="4.6"/>
<circle cx="514.2" cy="309.2" r="4.6"/>
<circle cx="514.8" cy="301.9" r="4.6"/>
<circle cx="515.3" cy="304.6" r="4.6"/>
<circle cx="515.3" cy="307.4" r="4.6"/>
<circle cx="516.0" cy="298.6" r="4.6"/>
<circle cx="516.5" cy="299.3" r="4.6"/>
<circle cx="517.0" cy="299.2" r="4.6"/>
<circle cx="517.3" cy="299.1" r="4.6"/>
<circle cx="517.8" cy="301.8" r="4.6"/>
<circle cx="518.1" cy="298.8" r="4.6"/>
<circle cx="518.6" cy="303.8" r="4.6"/>
<circle cx="519.3" cy="303.9" r="4.6"/>
<circle cx="519.5" cy="308.1" r="4.6"/>
<circle cx="520.0" cy="303.5" r="4.6"/>
<circle cx="520.6" cy="299.7" r="4.6"/>
<circle cx="520.9" cy="314.2" r="4.6"/>
<circle cx="521.4" cy="304.9" r="4.6"/>
<circle cx="522.2" cy="305.0" r="4.6"/>
<circle cx="522.5" cy="299.6" r="4.6"/>
<circle cx="522.8" cy="307.6" r="4.6"/>
<circle cx="523.5" cy="302.3" r="4.6"/>
<circle cx="523.7" cy="300.1" r="4.6"/>
<circle cx="524.2" cy="301.3" r="4.6"/>
<circle cx="525.0" cy="300.3" r="4.6"/>
<circle cx="525.5" cy="299.9" r="4.6"/>
<circle cx="525.8" cy="302.6" r="4.6"/>
<circle cx="526.0" cy="308.1" r="4.6"/>
<circle cx="526.6" cy="300.3" r="4.6"/>
<circle cx="526.9" cy="306.3" r="4.6"/>
<circle cx="527.5" cy="306.1" r="4.6"/>
<circle cx="527.8" cy="303.3" r="4.6"/>
<circle cx="528.4" cy="305.2" r="4.6"/>
<circle cx="529.1" cy="306.4" r="4.6"/>
<circle cx="529.3" cy="314.3" r="4.6"/>
<circle cx="529.8" cy="306.5" r="4.6"/>
<circle cx="530.6" cy="301.1" r="4.6"/>
<circle cx="530.8" cy="304.4" r="4.6"/>
<circle cx="531.2" cy="301.5" r="4.6"/>
<circle cx="531.6" cy="303.6" r="4.6"/>
<circle cx="532.4" cy="304.1" r="4.6"/>
<circle cx="532.8" cy="308.8" r="4.6"/>
<circle cx="533.2" cy="302.9" r="4.6"/>
<circle cx="533.7" cy="302.0" r="4.6"/>
<circle cx="533.9" cy="301.0" r="4.6"/>
<circle cx="534.5" cy="312.1" r="4.6"/>
<circle cx="535.1" cy="300.9" r="4.6"/>
<circle cx="535.7" cy="308.0" r="4.6"/>
<circle cx="536.1" cy="308.2" r="4.6"/>
<circle cx="536.5" cy="303.4" r="4.6"/>
<circle cx="536.9" cy="303.0" r="4.6"/>
<circle cx="537.1" cy="302.1" r="4.6"/>
<circle cx="538.0" cy="301.9" r="4.6"/>
<circle cx="538.1" cy="305.2" r="4.6"/>
<circle cx="538.6" cy="301.7" r="4.6"/>
<circle cx="539.3" cy="302.4" r="4.6"/>
<circle cx="539.8" cy="301.3" r="4.6"/>
<circle cx="540.3" cy="308.4" r="4.6"/>
<circle cx="540.6" cy="314.5" r="4.6"/>
<circle cx="540.9" cy="303.8" r="4.6"/>
<circle cx="541.3" cy="305.1" r="4.6"/>
<circle cx="542.2" cy="306.8" r="4.6"/>
<circle cx="542.7" cy="305.0" r="4.6"/>
<circle cx="542.8" cy="302.4" r="4.6"/>
<circle cx="543.5" cy="301.9" r="4.6"/>
<circle cx="543.8" cy="302.6" r="4.6"/>
<circle cx="544.2" cy="303.0" r="4.6"/>
<circle cx="544.8" cy="303.9" r="4.6"/>
<circle cx="545.0" cy="303.9" r="4.6"/>
<circle cx="545.7" cy="315.2" r="4.6"/>
<circle cx="546.0" cy="303.8" r="4.6"/>
<circle cx="546.7" cy="308.7" r="4.6"/>
<circle cx="547.1" cy="304.9" r="4.6"/>
<circle cx="547.7" cy="302.0" r="4.6"/>
<circle cx="548.2" cy="306.0" r="4.6"/>
<circle cx="548.4" cy="303.2" r="4.6"/>
<circle cx="548.8" cy="313.7" r="4.6"/>
<circle cx="549.6" cy="302.3" r="4.6"/>
<circle cx="549.9" cy="307.4" r="4.6"/>
<circle cx="550.2" cy="303.8" r="4.6"/>
<circle cx="550.6" cy="303.6" r="4.6"/>
<circle cx="551.5" cy="308.8" r="4.6"/>
<circle cx="551.8" cy="303.1" r="4.6"/>
<circle cx="552.0" cy="306.0" r="4.6"/>
<circle cx="552.7" cy="309.0" r="4.6"/>
<circle cx="553.1" cy="311.4" r="4.6"/>
<circle cx="553.6" cy="307.5" r="4.6"/>
<circle cx="554.3" cy="316.8" r="4.6"/>
<circle cx="554.7" cy="309.3" r="4.6"/>
<circle cx="554.8" cy="306.9" r="4.6"/>
<circle cx="555.3" cy="305.4" r="4.6"/>
<circle cx="555.9" cy="313.1" r="4.6"/>
<circle cx="556.5" cy="315.7" r="4.6"/>
<circle cx="556.9" cy="304.7" r="4.6"/>
<circle cx="557.4" cy="313.8" r="4.6"/>
<circle cx="557.8" cy="305.2" r="4.6"/>
<circle cx="558.1" cy="305.8" r="4.6"/>
<circle cx="558.8" cy="308.1" r="4.6"/>
<circle cx="558.9" cy="308.3" r="4.6"/>
<circle cx="559.7" cy="306.8" r="4.6"/>
<circle cx="559.9" cy="304.5" r="4.6"/>
<circle cx="560.5" cy="303.5" r="4.6"/>
<circle cx="561.2" cy="303.9" r="4.6"/>
<circle cx="561.5" cy="314.0" r="4.6"/>
<circle cx="561.7" cy="314.8" r="4.6"/>
<circle cx="562.4" cy="304.0" r="4.6"/>
<circle cx="562.9" cy="307.4" r="4.6"/>
<circle cx="563.1" cy="307.3" r="4.6"/>
<circle cx="563.7" cy="307.7" r="4.6"/>
<circle cx="564.0" cy="311.9" r="4.6"/>
<circle cx="564.7" cy="304.0" r="4.6"/>
<circle cx="565.1" cy="319.3" r="4.6"/>
<circle cx="565.7" cy="304.6" r="4.6"/>
<circle cx="566.0" cy="307.1" r="4.6"/>
<circle cx="566.7" cy="307.5" r="4.6"/>
<circle cx="566.9" cy="304.7" r="4.6"/>
<circle cx="567.7" cy="311.4" r="4.6"/>
<circle cx="568.2" cy="314.1" r="4.6"/>
<circle cx="568.4" cy="309.9" r="4.6"/>
<circle cx="568.9" cy="305.7" r="4.6"/>
<circle cx="569.5" cy="312.6" r="4.6"/>
<circle cx="569.7" cy="305.5" r="4.6"/>
<circle cx="570.4" cy="309.2" r="4.6"/>
<circle cx="570.7" cy="307.5" r="4.6"/>
<circle cx="571.3" cy="307.9" r="4.6"/>
<circle cx="571.6" cy="318.0" r="4.6"/>
<circle cx="572.2" cy="314.1" r="4.6"/>
<circle cx="572.8" cy="312.5" r="4.6"/>
<circle cx="572.9" cy="304.7" r="4.6"/>
<circle cx="573.7" cy="306.3" r="4.6"/>
<circle cx="574.0" cy="312.8" r="4.6"/>
<circle cx="574.4" cy="314.4" r="4.6"/>
<circle cx="574.9" cy="307.1" r="4.6"/>
<circle cx="575.2" cy="305.0" r="4.6"/>
<circle cx="575.8" cy="316.8" r="4.6"/>
<circle cx="576.4" cy="320.2" r="4.6"/>
<circle cx="576.6" cy="305.3" r="4.6"/>
<circle cx="577.3" cy="305.5" r="4.6"/>
<circle cx="577.9" cy="311.6" r="4.6"/>
<circle cx="578.4" cy="320.1" r="4.6"/>
<circle cx="578.8" cy="306.3" r="4.6"/>
<circle cx="579.3" cy="305.5" r="4.6"/>
<circle cx="579.4" cy="312.1" r="4.6"/>
<circle cx="580.3" cy="312.4" r="4.6"/>
<circle cx="580.4" cy="308.6" r="4.6"/>
<circle cx="581.1" cy="322.0" r="4.6"/>
<circle cx="581.6" cy="308.4" r="4.6"/>
<circle cx="582.0" cy="314.8" r="4.6"/>
<circle cx="582.4" cy="325.9" r="4.6"/>
<circle cx="582.7" cy="311.3" r="4.6"/>
<circle cx="583.3" cy="308.8" r="4.6"/>
<circle cx="583.7" cy="309.8" r="4.6"/>
<circle cx="584.0" cy="318.2" r="4.6"/>
<circle cx="584.5" cy="316.6" r="4.6"/>
<circle cx="585.3" cy="312.3" r="4.6"/>
<circle cx="585.8" cy="305.7" r="4.6"/>
<circle cx="585.9" cy="316.2" r="4.6"/>
<circle cx="586.3" cy="312.2" r="4.6"/>
<circle cx="586.9" cy="306.2" r="4.6"/>
<circle cx="587.3" cy="310.0" r="4.6"/>
<circle cx="587.8" cy="316.2" r="4.6"/>
<circle cx="588.4" cy="309.4" r="4.6"/>
<circle cx="588.8" cy="309.3" r="4.6"/>
<circle cx="589.3" cy="311.2" r="4.6"/>
<circle cx="589.6" cy="322.7" r="4.6"/>
<circle cx="590.3" cy="308.1" r="4.6"/>
<circle cx="590.6" cy="318.7" r="4.6"/>
<circle cx="591.1" cy="313.9" r="4.6"/>
<circle cx="591.6" cy="312.2" r="4.6"/>
<circle cx="592.3" cy="322.0" r="4.6"/>
<circle cx="592.5" cy="312.9" r="4.6"/>
<circle cx="593.1" cy="312.7" r="4.6"/>
<circle cx="593.4" cy="316.1" r="4.6"/>
<circle cx="594.1" cy="311.7" r="4.6"/>
<circle cx="594.4" cy="306.7" r="4.6"/>
<circle cx="594.9" cy="306.8" r="4.6"/>
<circle cx="595.5" cy="317.1" r="4.6"/>
<circle cx="595.9" cy="308.3" r="4.6"/>
<circle cx="596.1" cy="306.6" r="4.6"/>
<circle cx="596.6" cy="314.6" r="4.6"/>
<circle cx="597.4" cy="307.4" r="4.6"/>
<circle cx="597.5" cy="309.9" r="4.6"/>
<circle cx="598.0" cy="318.5" r="4.6"/>
<circle cx="598.8" cy="320.9" r="4.6"/>
<circle cx="598.8" cy="310.9" r="4.6"/>
<circle cx="599.4" cy="315.4" r="4.6"/>
<circle cx="599.9" cy="314.5" r="4.6"/>
<circle cx="600.3" cy="313.2" r="4.6"/>
<circle cx="600.9" cy="313.7" r="4.6"/>
<circle cx="601.4" cy="308.2" r="4.6"/>
<circle cx="601.8" cy="315.3" r="4.6"/>
<circle cx="602.1" cy="309.6" r="4.6"/>
<circle cx="602.9" cy="310.3" r="4.6"/>
<circle cx="603.4" cy="314.2" r="4.6"/>
<circle cx="603.7" cy="309.4" r="4.6"/>
<circle cx="604.0" cy="312.2" r="4.6"/>
<circle cx="604.7" cy="318.6" r="4.6"/>
<circle cx="605.2" cy="311.8" r="4.6"/>
<circle cx="605.5" cy="317.8" r="4.6"/>
<circle cx="606.2" cy="310.2" r="4.6"/>
<circle cx="606.4" cy="311.0" r="4.6"/>
<circle cx="607.0" cy="323.9" r="4.6"/>
<circle cx="607.2" cy="311.0" r="4.6"/>
<circle cx="607.9" cy="316.5" r="4.6"/>
<circle cx="608.5" cy="311.4" r="4.6"/>
<circle cx="608.9" cy="309.9" r="4.6"/>
<circle cx="609.2" cy="310.2" r="4.6"/>
<circle cx="610.0" cy="311.6" r="4.6"/>
<circle cx="610.3" cy="309.1" r="4.6"/>
<circle cx="610.6" cy="308.8" r="4.6"/>
<circle cx="611.1" cy="307.9" r="4.6"/>
<circle cx="611.7" cy="310.4" r="4.6"/>
<circle cx="611.9" cy="317.9" r="4.6"/>
<circle cx="612.6" cy="311.9" r="4.6"/>
<circle cx="613.1" cy="315.1" r="4.6"/>
<circle cx="613.5" cy="314.1" r="4.6"/>
<circle cx="614.1" cy="308.9" r="4.6"/>
<circle cx="614.4" cy="313.3" r="4.6"/>
<circle cx="614.8" cy="313.4" r="4.6"/>
<circle cx="615.2" cy="327.2" r="4.6"/>
<circle cx="616.0" cy="313.9" r="4.6"/>
<circle cx="616.1" cy="310.1" r="4.6"/>
<circle cx="616.8" cy="310.0" r="4.6"/>
<circle cx="617.1" cy="309.5" r="4.6"/>
<circle cx="617.8" cy="324.9" r="4.6"/>
<circle cx="618.3" cy="313.8" r="4.6"/>
<circle cx="618.3" cy="312.2" r="4.6"/>
<circle cx="619.2" cy="313.6" r="4.6"/>
<circle cx="619.5" cy="318.9" r="4.6"/>
<circle cx="619.7" cy="315.3" r="4.6"/>
<circle cx="620.4" cy="309.7" r="4.6"/>
<circle cx="620.7" cy="308.8" r="4.6"/>
<circle cx="621.4" cy="318.8" r="4.6"/>
<circle cx="621.7" cy="310.5" r="4.6"/>
<circle cx="622.2" cy="311.6" r="4.6"/>
<circle cx="622.6" cy="311.5" r="4.6"/>
<circle cx="623.2" cy="326.6" r="4.6"/>
<circle cx="623.8" cy="309.3" r="4.6"/>
<circle cx="624.3" cy="319.9" r="4.6"/>
<circle cx="624.5" cy="322.4" r="4.6"/>
<circle cx="625.1" cy="313.4" r="4.6"/>
<circle cx="625.3" cy="310.6" r="4.6"/>
<circle cx="625.9" cy="309.8" r="4.6"/>
<circle cx="626.7" cy="313.0" r="4.6"/>
<circle cx="626.7" cy="314.3" r="4.6"/>
<circle cx="117.6" cy="174.4" r="4.6"/>
<circle cx="185.5" cy="269.9" r="4.6"/>
<circle cx="229.3" cy="291.1" r="4.6"/>
<circle cx="246.2" cy="293.8" r="4.6"/>
<circle cx="231.6" cy="280.1" r="4.6"/>
<circle cx="268.7" cy="293.0" r="4.6"/>
<circle cx="289.3" cy="291.9" r="4.6"/>
<circle cx="400.8" cy="317.3" r="4.6"/>
<circle cx="469.5" cy="317.3" r="4.6"/>
<circle cx="547.7" cy="328.3" r="4.6"/>
<circle cx="610.7" cy="329.1" r="4.6"/>
<circle cx="533.9" cy="319.7" r="4.6"/>
<circle cx="540.4" cy="323.2" r="4.6"/>
<circle cx="138.3" cy="185.7" r="4.6"/>
<circle cx="149.1" cy="215.1" r="4.6"/>
<circle cx="154.7" cy="218.2" r="4.6"/>
</g>
<polyline points="103.7,55.0 108.4,69.3 113.0,82.3 117.7,94.2 122.3,105.1 127.0,115.2 131.6,124.5 136.3,133.1 140.9,141.1 145.5,148.6 150.2,155.6 154.8,162.1 159.5,168.2 164.1,174.0 168.8,179.4 173.4,184.6 178.1,189.4 182.7,194.0 187.3,198.3 192.0,202.5 196.6,206.4 201.3,210.1 205.9,213.7 210.6,217.1 215.2,220.3 219.9,223.4 224.5,226.4 229.2,229.2 233.8,231.9 238.4,234.6 243.1,237.1 247.7,239.5 252.4,241.8 257.0,244.0 261.7,246.2 266.3,248.3 271.0,250.3 275.6,252.2 280.3,254.1 284.9,255.9 289.5,257.6 294.2,259.3 298.8,260.9 303.5,262.5 308.1,264.0 312.8,265.5 317.4,266.9 322.1,268.3 326.7,269.7 331.3,271.0 336.0,272.3 340.6,273.5 345.3,274.8 349.9,275.9 354.6,277.1 359.2,278.2 363.9,279.3 368.5,280.3 373.2,281.4 377.8,282.4 382.4,283.3 387.1,284.3 391.7,285.2 396.4,286.1 401.0,287.0 405.7,287.9 410.3,288.7 415.0,289.6 419.6,290.4 424.2,291.2 428.9,292.0 433.5,292.7 438.2,293.4 442.8,294.2 447.5,294.9 452.1,295.6 456.8,296.3 461.4,296.9 466.1,297.6 470.7,298.2 475.3,298.8 480.0,299.5 484.6,300.1 489.3,300.7 493.9,301.2 498.6,301.8 503.2,302.4 507.9,302.9 512.5,303.4 517.2,304.0 521.8,304.5 526.4,305.0 531.1,305.5 535.7,306.0 540.4,306.5 545.0,306.9 549.7,307.4 554.3,307.9 559.0,308.3 563.6,308.8 568.2,309.2 572.9,309.6 577.5,310.0 582.2,310.5 586.8,310.9 591.5,311.3 596.1,311.7 600.8,312.0 605.4,312.4 610.1,312.8 614.7,313.2 619.3,313.5 624.0,313.9 628.6,314.3 633.3,314.6 637.9,315.0 642.6,315.3 647.2,315.6 651.9,316.0 656.5,316.3" fill="none" stroke="#f00" stroke-width="3.3" stroke-dasharray="12.15 5.085"/>
<g stroke="#000" stroke-width="1.8" fill="none">
<rect x="76.2" y="41.3" width="608.0" height="302.5"/>
<line x1="95.1" x2="95.1" y1="343.8" y2="332.0"/>
<line x1="181.5" x2="181.5" y1="343.8" y2="332.0"/>
<line x1="267.8" x2="267.8" y1="343.8" y2="332.0"/>
<line x1="354.2" x2="354.2" y1="343.8" y2="332.0"/>
<line x1="440.6" x2="440.6" y1="343.8" y2="332.0"/>
<line x1="527.0" x2="527.0" y1="343.8" y2="332.0"/>
<line x1="613.3" x2="613.3" y1="343.8" y2="332.0"/>
<line y1="322.0" y2="322.0" x1="76.2" x2="88.0"/>
<line y1="282.9" y2="282.9" x1="76.2" x2="88.0"/>
<line y1="243.7" y2="243.7" x1="76.2" x2="88.0"/>
<line y1="204.5" y2="204.5" x1="76.2" x2="88.0"/>
<line y1="165.4" y2="165.4" x1="76.2" x2="88.0"/>
<line y1="126.2" y2="126.2" x1="76.2" x2="88.0"/>
<line y1="87.1" y2="87.1" x1="76.2" x2="88.0"/>
<line y1="47.9" y2="47.9" x1="76.2" x2="88.0"/>
</g>
<g font-family="'Liberation Sans',Arial,sans-serif" font-size="16" fill="#000">
<g text-anchor="middle">
<text x="95.1" y="366.8">100</text>
<text x="181.5" y="366.8">200</text>
<text x="267.8" y="366.8">300</text>
<text x="354.2" y="366.8">400</text>
<text x="440.6" y="366.8">500</text>
<text x="527.0" y="366.8">600</text>
<text x="613.3" y="366.8">700</text>
</g><g text-anchor="end">
<text x="64.3" y="328.2">0.01</text>
<text x="64.3" y="289.1">0.02</text>
<text x="64.3" y="249.9">0.03</text>
<text x="64.3" y="210.7">0.04</text>
<text x="64.3" y="171.6">0.05</text>
<text x="64.3" y="132.4">0.06</text>
<text x="64.3" y="93.3">0.07</text>
<text x="64.3" y="54.1">0.08</text>
</g>
<text x="523.2" y="68.3" font-size="16.25">transit spectra datas</text>
</g>
<circle cx="493.9" cy="63.3" r="4.6" fill="#fda342" fill-opacity="0.42"/>
<line x1="477.2" x2="509.2" y1="89" y2="89" stroke="#f00" stroke-width="3.3" stroke-dasharray="12.15 5.085"/>
<text x="523.2" y="92.5" class="m" font-family="'DejaVu Sans',sans-serif" font-style="italic" font-size="16">f</text>
<text x="531.8" y="92.5" class="m" font-family="'DejaVu Sans',sans-serif" font-size="16">=</text>
<text x="555.0" y="86" class="m" font-family="'DejaVu Sans',sans-serif" font-style="italic" font-size="11.4" text-anchor="middle">c</text>
<line x1="548.8" x2="561" y1="89.3" y2="89.3" stroke="#000" stroke-width="1.3"/>
<text x="548.7" y="97" font-size="11.2"><tspan class="m" font-family="'DejaVu Sans',sans-serif" font-style="italic">π</tspan><tspan class="m" font-family="'DejaVu Sans',sans-serif" font-size="7.84" dy="2">1</tspan></text>
<g font-size="19.35"><text y="20" class="m" font-family="'DejaVu Sans',sans-serif" font-style="italic"><tspan x="266.6">f</tspan><tspan x="471.7">π</tspan></text><text y="20" x="280.0" font-family="'Liberation Sans',Arial,sans-serif">values with respect to</text><text y="23" class="m" font-family="'DejaVu Sans',sans-serif" font-size="13.5"><tspan x="483.7">1</tspan></text></g>
<text x="2.5" y="16" font-family="'Liberation Sans',Arial,sans-serif" font-weight="bold" font-size="22.3">a)</text>
<text x="0.4" y="478" font-family="'Liberation Sans',Arial,sans-serif" font-weight="bold" font-size="22.3">b)</text>
<text x="369" y="395" font-size="19.2"><tspan class="m" font-family="'DejaVu Sans',sans-serif" font-style="italic">π</tspan><tspan class="m" font-family="'DejaVu Sans',sans-serif" font-size="13.44" dy="2.6">1</tspan></text>
<text transform="translate(14.9 197.1) rotate(-90)" font-size="19.2" class="m" font-family="'DejaVu Sans',sans-serif" font-style="italic">f</text>
<g fill="#fda342" fill-opacity="0.42">
<circle cx="97.7" cy="768.4" r="4.6"/>
<circle cx="98.1" cy="777.6" r="4.6"/>
<circle cx="98.4" cy="778.4" r="4.6"/>
<circle cx="99.3" cy="756.6" r="4.6"/>
<circle cx="99.4" cy="761.5" r="4.6"/>
<circle cx="100.1" cy="757.4" r="4.6"/>
<circle cx="100.6" cy="754.8" r="4.6"/>
<circle cx="101.2" cy="782.6" r="4.6"/>
<circle cx="101.6" cy="765.0" r="4.6"/>
<circle cx="102.3" cy="750.5" r="4.6"/>
<circle cx="102.3" cy="764.8" r="4.6"/>
<circle cx="102.8" cy="744.7" r="4.6"/>
<circle cx="103.4" cy="736.9" r="4.6"/>
<circle cx="104.0" cy="722.9" r="4.6"/>
<circle cx="104.5" cy="729.2" r="4.6"/>
<circle cx="104.8" cy="757.9" r="4.6"/>
<circle cx="105.3" cy="736.4" r="4.6"/>
<circle cx="106.0" cy="735.9" r="4.6"/>
<circle cx="106.4" cy="727.0" r="4.6"/>
<circle cx="107.1" cy="720.7" r="4.6"/>
<circle cx="107.5" cy="709.2" r="4.6"/>
<circle cx="108.2" cy="716.7" r="4.6"/>
<circle cx="108.6" cy="729.4" r="4.6"/>
<circle cx="109.0" cy="722.4" r="4.6"/>
<circle cx="109.4" cy="707.2" r="4.6"/>
<circle cx="109.8" cy="728.6" r="4.6"/>
<circle cx="110.4" cy="731.9" r="4.6"/>
<circle cx="110.9" cy="695.9" r="4.6"/>
<circle cx="111.4" cy="702.8" r="4.6"/>
<circle cx="111.8" cy="703.4" r="4.6"/>
<circle cx="112.4" cy="728.1" r="4.6"/>
<circle cx="112.7" cy="712.8" r="4.6"/>
<circle cx="113.6" cy="706.7" r="4.6"/>
<circle cx="114.0" cy="689.9" r="4.6"/>
<circle cx="114.2" cy="686.1" r="4.6"/>
<circle cx="114.8" cy="700.1" r="4.6"/>
<circle cx="115.3" cy="711.9" r="4.6"/>
<circle cx="115.8" cy="693.1" r="4.6"/>
<circle cx="116.4" cy="690.0" r="4.6"/>
<circle cx="116.8" cy="690.2" r="4.6"/>
<circle cx="117.2" cy="699.6" r="4.6"/>
<circle cx="118.0" cy="683.1" r="4.6"/>
<circle cx="118.4" cy="682.7" r="4.6"/>
<circle cx="119.0" cy="685.6" r="4.6"/>
<circle cx="119.4" cy="694.7" r="4.6"/>
<circle cx="119.9" cy="686.4" r="4.6"/>
<circle cx="120.3" cy="686.9" r="4.6"/>
<circle cx="120.9" cy="693.7" r="4.6"/>
<circle cx="121.4" cy="689.6" r="4.6"/>
<circle cx="121.8" cy="690.0" r="4.6"/>
<circle cx="122.5" cy="713.0" r="4.6"/>
<circle cx="122.8" cy="684.5" r="4.6"/>
<circle cx="123.2" cy="706.9" r="4.6"/>
<circle cx="123.8" cy="711.1" r="4.6"/>
<circle cx="124.5" cy="706.7" r="4.6"/>
<circle cx="125.0" cy="691.0" r="4.6"/>
<circle cx="125.4" cy="685.2" r="4.6"/>
<circle cx="125.8" cy="664.2" r="4.6"/>
<circle cx="126.4" cy="677.8" r="4.6"/>
<circle cx="127.0" cy="688.8" r="4.6"/>
<circle cx="127.2" cy="680.0" r="4.6"/>
<circle cx="127.9" cy="674.6" r="4.6"/>
<circle cx="128.4" cy="699.9" r="4.6"/>
<circle cx="128.8" cy="659.7" r="4.6"/>
<circle cx="129.2" cy="681.6" r="4.6"/>
<circle cx="129.9" cy="660.1" r="4.6"/>
<circle cx="130.2" cy="661.0" r="4.6"/>
<circle cx="130.8" cy="674.5" r="4.6"/>
<circle cx="131.3" cy="655.1" r="4.6"/>
<circle cx="132.0" cy="656.2" r="4.6"/>
<circle cx="132.1" cy="686.4" r="4.6"/>
<circle cx="132.6" cy="656.2" r="4.6"/>
<circle cx="133.3" cy="652.6" r="4.6"/>
<circle cx="134.0" cy="669.3" r="4.6"/>
<circle cx="134.1" cy="666.9" r="4.6"/>
<circle cx="134.9" cy="666.7" r="4.6"/>
<circle cx="135.1" cy="663.4" r="4.6"/>
<circle cx="135.8" cy="664.1" r="4.6"/>
<circle cx="136.1" cy="659.2" r="4.6"/>
<circle cx="136.9" cy="687.5" r="4.6"/>
<circle cx="137.2" cy="668.3" r="4.6"/>
<circle cx="137.9" cy="646.9" r="4.6"/>
<circle cx="138.2" cy="649.6" r="4.6"/>
<circle cx="138.6" cy="664.6" r="4.6"/>
<circle cx="139.1" cy="650.0" r="4.6"/>
<circle cx="139.7" cy="662.2" r="4.6"/>
<circle cx="140.1" cy="646.0" r="4.6"/>
<circle cx="140.6" cy="667.1" r="4.6"/>
<circle cx="141.3" cy="652.6" r="4.6"/>
<circle cx="141.7" cy="648.4" r="4.6"/>
<circle cx="142.4" cy="645.6" r="4.6"/>
<circle cx="142.7" cy="646.8" r="4.6"/>
<circle cx="143.3" cy="648.9" r="4.6"/>
<circle cx="143.8" cy="642.2" r="4.6"/>
<circle cx="144.4" cy="641.0" r="4.6"/>
<circle cx="144.8" cy="641.4" r="4.6"/>
<circle cx="145.0" cy="641.0" r="4.6"/>
<circle cx="145.7" cy="674.3" r="4.6"/>
<circle cx="146.0" cy="651.1" r="4.6"/>
<circle cx="146.8" cy="656.5" r="4.6"/>
<circle cx="147.0" cy="651.7" r="4.6"/>
<circle cx="147.7" cy="670.4" r="4.6"/>
<circle cx="148.0" cy="655.1" r="4.6"/>
<circle cx="148.9" cy="654.8" r="4.6"/>
<circle cx="149.0" cy="673.2" r="4.6"/>
<circle cx="149.8" cy="641.2" r="4.6"/>
<circle cx="150.3" cy="646.3" r="4.6"/>
<circle cx="150.6" cy="643.2" r="4.6"/>
<circle cx="151.2" cy="651.9" r="4.6"/>
<circle cx="151.6" cy="644.7" r="4.6"/>
<circle cx="152.1" cy="649.7" r="4.6"/>
<circle cx="152.6" cy="642.8" r="4.6"/>
<circle cx="152.9" cy="650.0" r="4.6"/>
<circle cx="153.8" cy="650.3" r="4.6"/>
<circle cx="154.0" cy="655.0" r="4.6"/>
<circle cx="154.5" cy="649.1" r="4.6"/>
<circle cx="155.0" cy="629.6" r="4.6"/>
<circle cx="155.8" cy="648.5" r="4.6"/>
<circle cx="156.2" cy="643.3" r="4.6"/>
<circle cx="156.6" cy="640.2" r="4.6"/>
<circle cx="157.2" cy="627.3" r="4.6"/>
<circle cx="157.8" cy="656.6" r="4.6"/>
<circle cx="158.2" cy="636.9" r="4.6"/>
<circle cx="158.7" cy="658.7" r="4.6"/>
<circle cx="159.0" cy="646.3" r="4.6"/>
<circle cx="159.6" cy="651.6" r="4.6"/>
<circle cx="160.4" cy="642.4" r="4.6"/>
<circle cx="160.7" cy="631.1" r="4.6"/>
<circle cx="161.1" cy="632.6" r="4.6"/>
<circle cx="161.8" cy="626.4" r="4.6"/>
<circle cx="161.9" cy="623.7" r="4.6"/>
<circle cx="162.4" cy="632.8" r="4.6"/>
<circle cx="163.3" cy="641.8" r="4.6"/>
<circle cx="163.8" cy="623.1" r="4.6"/>
<circle cx="163.9" cy="647.1" r="4.6"/>
<circle cx="164.4" cy="628.7" r="4.6"/>
<circle cx="164.9" cy="663.8" r="4.6"/>
<circle cx="165.6" cy="631.7" r="4.6"/>
<circle cx="165.9" cy="638.9" r="4.6"/>
<circle cx="166.6" cy="634.5" r="4.6"/>
<circle cx="167.2" cy="653.8" r="4.6"/>
<circle cx="167.3" cy="637.6" r="4.6"/>
<circle cx="168.3" cy="628.3" r="4.6"/>
<circle cx="168.5" cy="637.6" r="4.6"/>
<circle cx="169.1" cy="659.7" r="4.6"/>
<circle cx="169.5" cy="629.8" r="4.6"/>
<circle cx="170.0" cy="628.3" r="4.6"/>
<circle cx="170.5" cy="620.3" r="4.6"/>
<circle cx="170.8" cy="638.7" r="4.6"/>
<circle cx="171.5" cy="633.7" r="4.6"/>
<circle cx="171.9" cy="619.8" r="4.6"/>
<circle cx="172.5" cy="634.9" r="4.6"/>
<circle cx="172.9" cy="623.4" r="4.6"/>
<circle cx="173.5" cy="630.3" r="4.6"/>
<circle cx="174.1" cy="618.9" r="4.6"/>
<circle cx="174.8" cy="633.4" r="4.6"/>
<circle cx="174.9" cy="630.2" r="4.6"/>
<circle cx="175.7" cy="653.1" r="4.6"/>
<circle cx="176.1" cy="620.8" r="4.6"/>
<circle cx="176.3" cy="633.0" r="4.6"/>
<circle cx="176.8" cy="616.4" r="4.6"/>
<circle cx="177.7" cy="615.5" r="4.6"/>
<circle cx="177.9" cy="619.4" r="4.6"/>
<circle cx="178.3" cy="631.1" r="4.6"/>
<circle cx="179.1" cy="615.8" r="4.6"/>
<circle cx="179.6" cy="634.7" r="4.6"/>
<circle cx="180.2" cy="636.2" r="4.6"/>
<circle cx="180.5" cy="625.7" r="4.6"/>
<circle cx="180.9" cy="629.3" r="4.6"/>
<circle cx="181.4" cy="622.3" r="4.6"/>
<circle cx="181.8" cy="628.5" r="4.6"/>
<circle cx="182.6" cy="636.0" r="4.6"/>
<circle cx="183.2" cy="614.5" r="4.6"/>
<circle cx="183.3" cy="630.1" r="4.6"/>
<circle cx="183.9" cy="625.7" r="4.6"/>
<circle cx="184.4" cy="625.2" r="4.6"/>
<circle cx="184.8" cy="621.3" r="4.6"/>
<circle cx="185.5" cy="644.9" r="4.6"/>
<circle cx="186.2" cy="650.8" r="4.6"/>
<circle cx="186.4" cy="607.9" r="4.6"/>
<circle cx="187.1" cy="624.4" r="4.6"/>
<circle cx="187.7" cy="608.5" r="4.6"/>
<circle cx="187.8" cy="617.6" r="4.6"/>
<circle cx="188.7" cy="611.4" r="4.6"/>
<circle cx="189.1" cy="641.1" r="4.6"/>
<circle cx="189.5" cy="608.1" r="4.6"/>
<circle cx="189.8" cy="627.1" r="4.6"/>
<circle cx="190.3" cy="636.3" r="4.6"/>
<circle cx="190.7" cy="612.2" r="4.6"/>
<circle cx="191.6" cy="639.1" r="4.6"/>
<circle cx="192.1" cy="619.7" r="4.6"/>
<circle cx="192.2" cy="617.1" r="4.6"/>
<circle cx="192.9" cy="645.4" r="4.6"/>
<circle cx="193.3" cy="612.3" r="4.6"/>
<circle cx="194.0" cy="616.5" r="4.6"/>
<circle cx="194.5" cy="614.6" r="4.6"/>
<circle cx="195.1" cy="629.1" r="4.6"/>
<circle cx="195.5" cy="618.9" r="4.6"/>
<circle cx="195.7" cy="634.7" r="4.6"/>
<circle cx="196.3" cy="608.2" r="4.6"/>
<circle cx="196.9" cy="640.4" r="4.6"/>
<circle cx="197.6" cy="619.8" r="4.6"/>
<circle cx="197.8" cy="636.0" r="4.6"/>
<circle cx="198.2" cy="619.6" r="4.6"/>
<circle cx="198.8" cy="611.5" r="4.6"/>
<circle cx="199.3" cy="618.3" r="4.6"/>
<circle cx="199.7" cy="637.6" r="4.6"/>
<circle cx="200.3" cy="601.7" r="4.6"/>
<circle cx="200.7" cy="600.4" r="4.6"/>
<circle cx="201.4" cy="635.9" r="4.6"/>
<circle cx="202.1" cy="602.8" r="4.6"/>
<circle cx="202.6" cy="598.8" r="4.6"/>
<circle cx="202.7" cy="607.2" r="4.6"/>
<circle cx="203.4" cy="606.0" r="4.6"/>
<circle cx="203.9" cy="610.4" r="4.6"/>
<circle cx="204.2" cy="598.0" r="4.6"/>
<circle cx="204.9" cy="624.3" r="4.6"/>
<circle cx="205.2" cy="614.4" r="4.6"/>
<circle cx="205.8" cy="599.9" r="4.6"/>
<circle cx="206.2" cy="617.8" r="4.6"/>
<circle cx="207.0" cy="616.8" r="4.6"/>
<circle cx="207.2" cy="616.8" r="4.6"/>
<circle cx="207.8" cy="615.8" r="4.6"/>
<circle cx="208.4" cy="611.1" r="4.6"/>
<circle cx="208.7" cy="603.9" r="4.6"/>
<circle cx="209.5" cy="609.6" r="4.6"/>
<circle cx="209.7" cy="598.9" r="4.6"/>
<circle cx="210.2" cy="609.7" r="4.6"/>
<circle cx="210.9" cy="632.1" r="4.6"/>
<circle cx="211.3" cy="639.0" r="4.6"/>
<circle cx="211.9" cy="613.7" r="4.6"/>
<circle cx="212.1" cy="614.2" r="4.6"/>
<circle cx="212.6" cy="616.1" r="4.6"/>
<circle cx="213.4" cy="613.9" r="4.6"/>
<circle cx="213.7" cy="612.8" r="4.6"/>
<circle cx="214.5" cy="601.2" r="4.6"/>
<circle cx="214.7" cy="609.4" r="4.6"/>
<circle cx="215.2" cy="633.2" r="4.6"/>
<circle cx="216.0" cy="593.1" r="4.6"/>
<circle cx="216.2" cy="635.2" r="4.6"/>
<circle cx="216.6" cy="625.1" r="4.6"/>
<circle cx="217.1" cy="614.1" r="4.6"/>
<circle cx="217.9" cy="600.0" r="4.6"/>
<circle cx="218.1" cy="610.8" r="4.6"/>
<circle cx="218.8" cy="610.6" r="4.6"/>
<circle cx="219.4" cy="606.7" r="4.6"/>
<circle cx="219.8" cy="608.8" r="4.6"/>
<circle cx="220.4" cy="611.2" r="4.6"/>
<circle cx="221.0" cy="603.2" r="4.6"/>
<circle cx="221.1" cy="601.9" r="4.6"/>
<circle cx="221.9" cy="612.3" r="4.6"/>
<circle cx="222.3" cy="602.0" r="4.6"/>
<circle cx="222.6" cy="609.6" r="4.6"/>
<circle cx="223.0" cy="632.9" r="4.6"/>
<circle cx="223.6" cy="606.2" r="4.6"/>
<circle cx="224.0" cy="605.1" r="4.6"/>
<circle cx="224.9" cy="591.6" r="4.6"/>
<circle cx="225.2" cy="623.1" r="4.6"/>
<circle cx="225.5" cy="609.4" r="4.6"/>
<circle cx="226.4" cy="590.7" r="4.6"/>
<circle cx="226.8" cy="597.1" r="4.6"/>
<circle cx="227.2" cy="600.3" r="4.6"/>
<circle cx="227.5" cy="600.9" r="4.6"/>
<circle cx="228.2" cy="617.2" r="4.6"/>
<circle cx="228.9" cy="602.8" r="4.6"/>
<circle cx="229.2" cy="631.7" r="4.6"/>
<circle cx="229.7" cy="605.4" r="4.6"/>
<circle cx="230.2" cy="606.2" r="4.6"/>
<circle cx="230.7" cy="621.1" r="4.6"/>
<circle cx="231.2" cy="615.5" r="4.6"/>
<circle cx="231.5" cy="590.9" r="4.6"/>
<circle cx="232.0" cy="624.0" r="4.6"/>
<circle cx="232.4" cy="605.6" r="4.6"/>
<circle cx="233.3" cy="592.7" r="4.6"/>
<circle cx="233.4" cy="596.4" r="4.6"/>
<circle cx="234.0" cy="608.9" r="4.6"/>
<circle cx="234.7" cy="622.3" r="4.6"/>
<circle cx="235.2" cy="585.4" r="4.6"/>
<circle cx="235.8" cy="584.8" r="4.6"/>
<circle cx="236.0" cy="597.7" r="4.6"/>
<circle cx="236.4" cy="586.5" r="4.6"/>
<circle cx="237.0" cy="627.6" r="4.6"/>
<circle cx="237.6" cy="600.9" r="4.6"/>
<circle cx="238.0" cy="584.1" r="4.6"/>
<circle cx="238.6" cy="588.4" r="4.6"/>
<circle cx="239.2" cy="592.2" r="4.6"/>
<circle cx="239.5" cy="586.6" r="4.6"/>
<circle cx="240.2" cy="592.1" r="4.6"/>
<circle cx="240.4" cy="599.5" r="4.6"/>
<circle cx="241.1" cy="602.8" r="4.6"/>
<circle cx="241.8" cy="589.0" r="4.6"/>
<circle cx="242.3" cy="583.4" r="4.6"/>
<circle cx="242.6" cy="584.7" r="4.6"/>
<circle cx="243.3" cy="585.4" r="4.6"/>
<circle cx="243.5" cy="602.8" r="4.6"/>
<circle cx="244.0" cy="620.1" r="4.6"/>
<circle cx="244.6" cy="601.9" r="4.6"/>
<circle cx="245.1" cy="586.6" r="4.6"/>
<circle cx="245.7" cy="609.0" r="4.6"/>
<circle cx="246.1" cy="584.7" r="4.6"/>
<circle cx="246.4" cy="595.2" r="4.6"/>
<circle cx="247.2" cy="593.6" r="4.6"/>
<circle cx="247.4" cy="623.0" r="4.6"/>
<circle cx="248.3" cy="621.6" r="4.6"/>
<circle cx="248.4" cy="592.0" r="4.6"/>
<circle cx="249.0" cy="589.6" r="4.6"/>
<circle cx="249.4" cy="585.5" r="4.6"/>
<circle cx="250.0" cy="596.8" r="4.6"/>
<circle cx="250.6" cy="598.2" r="4.6"/>
<circle cx="250.9" cy="613.2" r="4.6"/>
<circle cx="251.3" cy="590.8" r="4.6"/>
<circle cx="252.1" cy="595.1" r="4.6"/>
<circle cx="252.7" cy="584.2" r="4.6"/>
<circle cx="252.8" cy="610.0" r="4.6"/>
<circle cx="253.5" cy="596.8" r="4.6"/>
<circle cx="253.8" cy="579.2" r="4.6"/>
<circle cx="254.3" cy="592.6" r="4.6"/>
<circle cx="255.0" cy="613.7" r="4.6"/>
<circle cx="255.4" cy="595.6" r="4.6"/>
<circle cx="256.2" cy="589.3" r="4.6"/>
<circle cx="256.3" cy="621.4" r="4.6"/>
<circle cx="257.1" cy="600.4" r="4.6"/>
<circle cx="257.6" cy="592.9" r="4.6"/>
<circle cx="258.0" cy="588.6" r="4.6"/>
<circle cx="258.5" cy="601.5" r="4.6"/>
<circle cx="258.9" cy="617.9" r="4.6"/>
<circle cx="259.4" cy="598.1" r="4.6"/>
<circle cx="259.8" cy="590.2" r="4.6"/>
<circle cx="260.7" cy="580.5" r="4.6"/>
<circle cx="260.7" cy="579.6" r="4.6"/>
<circle cx="261.3" cy="584.9" r="4.6"/>
<circle cx="262.1" cy="595.6" r="4.6"/>
<circle cx="262.5" cy="592.0" r="4.6"/>
<circle cx="263.0" cy="591.2" r="4.6"/>
<circle cx="263.4" cy="582.3" r="4.6"/>
<circle cx="263.8" cy="588.6" r="4.6"/>
<circle cx="264.6" cy="578.9" r="4.6"/>
<circle cx="264.8" cy="615.2" r="4.6"/>
<circle cx="265.4" cy="592.7" r="4.6"/>
<circle cx="266.1" cy="581.0" r="4.6"/>
<circle cx="266.3" cy="608.8" r="4.6"/>
<circle cx="267.2" cy="583.8" r="4.6"/>
<circle cx="267.3" cy="584.9" r="4.6"/>
<circle cx="268.0" cy="600.2" r="4.6"/>
<circle cx="268.5" cy="590.9" r="4.6"/>
<circle cx="268.9" cy="575.6" r="4.6"/>
<circle cx="269.6" cy="595.3" r="4.6"/>
<circle cx="269.7" cy="582.0" r="4.6"/>
<circle cx="270.4" cy="579.5" r="4.6"/>
<circle cx="271.1" cy="585.8" r="4.6"/>
<circle cx="271.2" cy="593.4" r="4.6"/>
<circle cx="271.9" cy="595.0" r="4.6"/>
<circle cx="272.4" cy="588.2" r="4.6"/>
<circle cx="272.9" cy="614.5" r="4.6"/>
<circle cx="273.4" cy="609.9" r="4.6"/>
<circle cx="274.0" cy="584.5" r="4.6"/>
<circle cx="274.5" cy="608.0" r="4.6"/>
<circle cx="275.1" cy="583.2" r="4.6"/>
<circle cx="275.5" cy="598.3" r="4.6"/>
<circle cx="276.1" cy="587.1" r="4.6"/>
<circle cx="276.5" cy="611.1" r="4.6"/>
<circle cx="276.8" cy="587.5" r="4.6"/>
<circle cx="277.2" cy="572.1" r="4.6"/>
<circle cx="277.7" cy="578.8" r="4.6"/>
<circle cx="278.3" cy="592.8" r="4.6"/>
<circle cx="278.7" cy="590.9" r="4.6"/>
<circle cx="279.5" cy="591.4" r="4.6"/>
<circle cx="280.0" cy="602.7" r="4.6"/>
<circle cx="280.4" cy="571.2" r="4.6"/>
<circle cx="280.8" cy="589.9" r="4.6"/>
<circle cx="281.3" cy="577.8" r="4.6"/>
<circle cx="281.7" cy="592.6" r="4.6"/>
<circle cx="282.6" cy="589.0" r="4.6"/>
<circle cx="282.6" cy="580.0" r="4.6"/>
<circle cx="283.3" cy="570.6" r="4.6"/>
<circle cx="283.9" cy="590.3" r="4.6"/>
<circle cx="284.2" cy="596.3" r="4.6"/>
<circle cx="285.0" cy="580.4" r="4.6"/>
<circle cx="285.3" cy="588.6" r="4.6"/>
<circle cx="285.8" cy="594.2" r="4.6"/>
<circle cx="286.1" cy="583.8" r="4.6"/>
<circle cx="286.7" cy="587.3" r="4.6"/>
<circle cx="287.4" cy="580.5" r="4.6"/>
<circle cx="287.7" cy="604.8" r="4.6"/>
<circle cx="288.1" cy="581.4" r="4.6"/>
<circle cx="288.8" cy="612.2" r="4.6"/>
<circle cx="289.2" cy="577.7" r="4.6"/>
<circle cx="290.0" cy="587.7" r="4.6"/>
<circle cx="290.4" cy="569.7" r="4.6"/>
<circle cx="290.9" cy="567.7" r="4.6"/>
<circle cx="291.5" cy="574.8" r="4.6"/>
<circle cx="291.9" cy="577.8" r="4.6"/>
<circle cx="292.2" cy="576.3" r="4.6"/>
<circle cx="292.8" cy="574.0" r="4.6"/>
<circle cx="293.2" cy="575.6" r="4.6"/>
<circle cx="293.6" cy="577.6" r="4.6"/>
<circle cx="294.1" cy="584.8" r="4.6"/>
<circle cx="294.6" cy="572.5" r="4.6"/>
<circle cx="295.1" cy="589.7" r="4.6"/>
<circle cx="295.6" cy="573.2" r="4.6"/>
<circle cx="296.3" cy="577.5" r="4.6"/>
<circle cx="296.6" cy="568.0" r="4.6"/>
<circle cx="297.0" cy="566.7" r="4.6"/>
<circle cx="297.7" cy="566.8" r="4.6"/>
<circle cx="298.1" cy="585.4" r="4.6"/>
<circle cx="298.8" cy="583.4" r="4.6"/>
<circle cx="299.1" cy="607.8" r="4.6"/>
<circle cx="299.8" cy="592.3" r="4.6"/>
<circle cx="300.1" cy="608.7" r="4.6"/>
<circle cx="300.7" cy="569.8" r="4.6"/>
<circle cx="301.4" cy="584.4" r="4.6"/>
<circle cx="301.6" cy="608.6" r="4.6"/>
<circle cx="302.2" cy="583.0" r="4.6"/>
<circle cx="302.7" cy="574.9" r="4.6"/>
<circle cx="303.0" cy="586.3" r="4.6"/>
<circle cx="303.5" cy="602.3" r="4.6"/>
<circle cx="304.4" cy="572.2" r="4.6"/>
<circle cx="304.6" cy="564.0" r="4.6"/>
<circle cx="305.3" cy="587.2" r="4.6"/>
<circle cx="305.7" cy="579.9" r="4.6"/>
<circle cx="306.4" cy="576.9" r="4.6"/>
<circle cx="306.5" cy="592.8" r="4.6"/>
<circle cx="307.2" cy="587.4" r="4.6"/>
<circle cx="307.7" cy="584.7" r="4.6"/>
<circle cx="308.3" cy="587.7" r="4.6"/>
<circle cx="308.4" cy="576.0" r="4.6"/>
<circle cx="309.1" cy="579.2" r="4.6"/>
<circle cx="309.7" cy="572.8" r="4.6"/>
<circle cx="310.2" cy="565.8" r="4.6"/>
<circle cx="310.5" cy="573.3" r="4.6"/>
<circle cx="311.2" cy="563.0" r="4.6"/>
<circle cx="311.8" cy="606.9" r="4.6"/>
<circle cx="312.3" cy="576.7" r="4.6"/>
<circle cx="312.5" cy="569.4" r="4.6"/>
<circle cx="313.1" cy="576.4" r="4.6"/>
<circle cx="313.5" cy="570.8" r="4.6"/>
<circle cx="314.1" cy="563.6" r="4.6"/>
<circle cx="314.6" cy="565.4" r="4.6"/>
<circle cx="315.4" cy="579.3" r="4.6"/>
<circle cx="315.4" cy="601.1" r="4.6"/>
<circle cx="316.4" cy="589.3" r="4.6"/>
<circle cx="316.4" cy="580.9" r="4.6"/>
<circle cx="316.9" cy="562.4" r="4.6"/>
<circle cx="317.5" cy="573.9" r="4.6"/>
<circle cx="318.0" cy="573.9" r="4.6"/>
<circle cx="318.8" cy="599.6" r="4.6"/>
<circle cx="319.3" cy="561.3" r="4.6"/>
<circle cx="319.8" cy="562.8" r="4.6"/>
<circle cx="320.0" cy="581.5" r="4.6"/>
<circle cx="320.4" cy="564.9" r="4.6"/>
<circle cx="321.2" cy="560.7" r="4.6"/>
<circle cx="321.8" cy="570.8" r="4.6"/>
<circle cx="321.9" cy="565.2" r="4.6"/>
<circle cx="322.7" cy="577.5" r="4.6"/>
<circle cx="322.8" cy="581.8" r="4.6"/>
<circle cx="323.7" cy="578.1" r="4.6"/>
<circle cx="324.1" cy="571.3" r="4.6"/>
<circle cx="324.8" cy="583.7" r="4.6"/>
<circle cx="325.3" cy="559.9" r="4.6"/>
<circle cx="325.3" cy="565.3" r="4.6"/>
<circle cx="326.1" cy="576.1" r="4.6"/>
<circle cx="326.4" cy="578.0" r="4.6"/>
<circle cx="327.0" cy="574.7" r="4.6"/>
<circle cx="327.3" cy="572.1" r="4.6"/>
<circle cx="328.0" cy="559.6" r="4.6"/>
<circle cx="328.5" cy="593.8" r="4.6"/>
<circle cx="328.8" cy="590.0" r="4.6"/>
<circle cx="329.5" cy="573.5" r="4.6"/>
<circle cx="330.2" cy="557.7" r="4.6"/>
<circle cx="330.3" cy="579.0" r="4.6"/>
<circle cx="331.3" cy="561.4" r="4.6"/>
<circle cx="331.5" cy="564.7" r="4.6"/>
<circle cx="331.9" cy="566.9" r="4.6"/>
<circle cx="332.8" cy="595.2" r="4.6"/>
<circle cx="333.0" cy="557.9" r="4.6"/>
<circle cx="333.5" cy="585.9" r="4.6"/>
<circle cx="334.0" cy="571.6" r="4.6"/>
<circle cx="334.7" cy="570.9" r="4.6"/>
<circle cx="334.8" cy="569.6" r="4.6"/>
<circle cx="335.4" cy="596.3" r="4.6"/>
<circle cx="335.9" cy="570.0" r="4.6"/>
<circle cx="336.3" cy="568.6" r="4.6"/>
<circle cx="337.2" cy="569.5" r="4.6"/>
<circle cx="337.5" cy="563.6" r="4.6"/>
<circle cx="338.0" cy="567.0" r="4.6"/>
<circle cx="338.7" cy="592.3" r="4.6"/>
<circle cx="339.0" cy="571.7" r="4.6"/>
<circle cx="339.4" cy="571.7" r="4.6"/>
<circle cx="340.0" cy="562.4" r="4.6"/>
<circle cx="340.5" cy="567.2" r="4.6"/>
<circle cx="340.9" cy="587.5" r="4.6"/>
<circle cx="341.3" cy="583.1" r="4.6"/>
<circle cx="341.9" cy="556.5" r="4.6"/>
<circle cx="342.6" cy="565.1" r="4.6"/>
<circle cx="342.8" cy="579.8" r="4.6"/>
<circle cx="343.7" cy="565.3" r="4.6"/>
<circle cx="343.8" cy="575.0" r="4.6"/>
<circle cx="344.3" cy="585.4" r="4.6"/>
<circle cx="344.8" cy="589.9" r="4.6"/>
<circle cx="345.4" cy="560.3" r="4.6"/>
<circle cx="345.9" cy="582.1" r="4.6"/>
<circle cx="346.5" cy="598.2" r="4.6"/>
<circle cx="347.1" cy="576.8" r="4.6"/>
<circle cx="347.3" cy="590.7" r="4.6"/>
<circle cx="348.1" cy="563.8" r="4.6"/>
<circle cx="348.3" cy="583.0" r="4.6"/>
<circle cx="348.9" cy="571.8" r="4.6"/>
<circle cx="349.2" cy="560.1" r="4.6"/>
<circle cx="350.1" cy="591.1" r="4.6"/>
<circle cx="350.3" cy="567.1" r="4.6"/>
<circle cx="351.0" cy="566.6" r="4.6"/>
<circle cx="351.2" cy="573.2" r="4.6"/>
<circle cx="352.0" cy="562.5" r="4.6"/>
<circle cx="352.3" cy="555.2" r="4.6"/>
<circle cx="352.9" cy="561.3" r="4.6"/>
<circle cx="353.5" cy="578.6" r="4.6"/>
<circle cx="353.7" cy="558.7" r="4.6"/>
<circle cx="354.4" cy="584.0" r="4.6"/>
<circle cx="355.0" cy="562.4" r="4.6"/>
<circle cx="355.2" cy="588.2" r="4.6"/>
<circle cx="355.9" cy="584.9" r="4.6"/>
<circle cx="356.2" cy="561.9" r="4.6"/>
<circle cx="356.7" cy="560.1" r="4.6"/>
<circle cx="357.4" cy="558.6" r="4.6"/>
<circle cx="357.8" cy="571.7" r="4.6"/>
<circle cx="358.4" cy="565.3" r="4.6"/>
<circle cx="359.0" cy="579.0" r="4.6"/>
<circle cx="359.5" cy="572.4" r="4.6"/>
<circle cx="359.8" cy="573.7" r="4.6"/>
<circle cx="360.3" cy="555.5" r="4.6"/>
<circle cx="360.9" cy="552.7" r="4.6"/>
<circle cx="361.5" cy="557.8" r="4.6"/>
<circle cx="361.9" cy="571.8" r="4.6"/>
<circle cx="362.3" cy="579.5" r="4.6"/>
<circle cx="362.6" cy="561.3" r="4.6"/>
<circle cx="363.5" cy="559.8" r="4.6"/>
<circle cx="363.7" cy="564.4" r="4.6"/>
<circle cx="364.3" cy="555.3" r="4.6"/>
<circle cx="365.0" cy="569.4" r="4.6"/>
<circle cx="365.2" cy="575.6" r="4.6"/>
<circle cx="366.0" cy="569.6" r="4.6"/>
<circle cx="366.2" cy="557.7" r="4.6"/>
<circle cx="366.6" cy="579.1" r="4.6"/>
<circle cx="367.3" cy="560.4" r="4.6"/>
<circle cx="367.9" cy="569.7" r="4.6"/>
<circle cx="368.2" cy="569.6" r="4.6"/>
<circle cx="369.0" cy="575.8" r="4.6"/>
<circle cx="369.2" cy="553.1" r="4.6"/>
<circle cx="369.9" cy="556.9" r="4.6"/>
<circle cx="370.1" cy="556.1" r="4.6"/>
<circle cx="370.7" cy="561.2" r="4.6"/>
<circle cx="371.1" cy="569.0" r="4.6"/>
<circle cx="371.9" cy="562.5" r="4.6"/>
<circle cx="372.2" cy="589.5" r="4.6"/>
<circle cx="372.8" cy="575.0" r="4.6"/>
<circle cx="373.1" cy="564.3" r="4.6"/>
<circle cx="373.9" cy="574.7" r="4.6"/>
<circle cx="374.5" cy="577.5" r="4.6"/>
<circle cx="374.5" cy="579.2" r="4.6"/>
<circle cx="375.2" cy="582.9" r="4.6"/>
<circle cx="375.9" cy="586.2" r="4.6"/>
<circle cx="376.4" cy="554.2" r="4.6"/>
<circle cx="376.9" cy="560.7" r="4.6"/>
<circle cx="377.1" cy="575.2" r="4.6"/>
<circle cx="377.8" cy="555.5" r="4.6"/>
<circle cx="378.0" cy="551.2" r="4.6"/>
<circle cx="378.7" cy="566.7" r="4.6"/>
<circle cx="379.3" cy="552.7" r="4.6"/>
<circle cx="379.6" cy="553.6" r="4.6"/>
<circle cx="380.2" cy="562.8" r="4.6"/>
<circle cx="380.6" cy="554.2" r="4.6"/>
<circle cx="381.0" cy="560.4" r="4.6"/>
<circle cx="381.5" cy="547.3" r="4.6"/>
<circle cx="382.3" cy="554.7" r="4.6"/>
<circle cx="382.5" cy="565.6" r="4.6"/>
<circle cx="383.4" cy="553.0" r="4.6"/>
<circle cx="383.9" cy="561.0" r="4.6"/>
<circle cx="384.4" cy="586.7" r="4.6"/>
<circle cx="384.8" cy="549.6" r="4.6"/>
<circle cx="384.9" cy="559.1" r="4.6"/>
<circle cx="385.5" cy="551.7" r="4.6"/>
<circle cx="386.1" cy="553.9" r="4.6"/>
<circle cx="386.5" cy="585.2" r="4.6"/>
<circle cx="387.0" cy="565.9" r="4.6"/>
<circle cx="387.9" cy="546.7" r="4.6"/>
<circle cx="388.4" cy="565.2" r="4.6"/>
<circle cx="388.8" cy="566.8" r="4.6"/>
<circle cx="389.0" cy="549.0" r="4.6"/>
<circle cx="389.8" cy="557.5" r="4.6"/>
<circle cx="390.3" cy="568.4" r="4.6"/>
<circle cx="390.6" cy="566.3" r="4.6"/>
<circle cx="391.0" cy="552.9" r="4.6"/>
<circle cx="391.5" cy="581.4" r="4.6"/>
<circle cx="392.1" cy="559.6" r="4.6"/>
<circle cx="392.8" cy="584.2" r="4.6"/>
<circle cx="392.9" cy="571.2" r="4.6"/>
<circle cx="393.6" cy="546.8" r="4.6"/>
<circle cx="394.1" cy="549.9" r="4.6"/>
<circle cx="394.8" cy="556.8" r="4.6"/>
<circle cx="394.9" cy="580.5" r="4.6"/>
<circle cx="395.7" cy="557.5" r="4.6"/>
<circle cx="396.0" cy="568.2" r="4.6"/>
<circle cx="396.7" cy="579.7" r="4.6"/>
<circle cx="397.3" cy="567.5" r="4.6"/>
<circle cx="397.8" cy="588.5" r="4.6"/>
<circle cx="398.3" cy="555.5" r="4.6"/>
<circle cx="398.5" cy="563.6" r="4.6"/>
<circle cx="399.0" cy="544.4" r="4.6"/>
<circle cx="399.4" cy="563.0" r="4.6"/>
<circle cx="400.0" cy="564.9" r="4.6"/>
<circle cx="400.4" cy="557.2" r="4.6"/>
<circle cx="401.2" cy="561.1" r="4.6"/>
<circle cx="401.4" cy="547.3" r="4.6"/>
<circle cx="401.9" cy="571.0" r="4.6"/>
<circle cx="402.7" cy="559.6" r="4.6"/>
<circle cx="403.2" cy="551.1" r="4.6"/>
<circle cx="403.8" cy="562.2" r="4.6"/>
<circle cx="404.0" cy="543.7" r="4.6"/>
<circle cx="404.3" cy="555.7" r="4.6"/>
<circle cx="405.2" cy="561.4" r="4.6"/>
<circle cx="405.4" cy="548.2" r="4.6"/>
<circle cx="406.2" cy="548.2" r="4.6"/>
<circle cx="406.3" cy="577.5" r="4.6"/>
<circle cx="406.8" cy="569.4" r="4.6"/>
<circle cx="407.6" cy="561.8" r="4.6"/>
<circle cx="408.1" cy="558.0" r="4.6"/>
<circle cx="408.6" cy="543.4" r="4.6"/>
<circle cx="409.0" cy="559.8" r="4.6"/>
<circle cx="409.6" cy="552.3" r="4.6"/>
<circle cx="409.8" cy="567.2" r="4.6"/>
<circle cx="410.3" cy="558.5" r="4.6"/>
<circle cx="410.9" cy="562.9" r="4.6"/>
<circle cx="411.5" cy="562.7" r="4.6"/>
<circle cx="411.9" cy="587.4" r="4.6"/>
<circle cx="412.3" cy="560.9" r="4.6"/>
<circle cx="413.0" cy="547.4" r="4.6"/>
<circle cx="413.5" cy="556.0" r="4.6"/>
<circle cx="413.9" cy="562.0" r="4.6"/>
<circle cx="414.7" cy="545.2" r="4.6"/>
<circle cx="415.2" cy="555.1" r="4.6"/>
<circle cx="415.3" cy="561.5" r="4.6"/>
<circle cx="416.0" cy="558.1" r="4.6"/>
<circle cx="416.3" cy="558.2" r="4.6"/>
<circle cx="416.9" cy="546.9" r="4.6"/>
<circle cx="417.2" cy="549.5" r="4.6"/>
<circle cx="417.8" cy="542.1" r="4.6"/>
<circle cx="418.2" cy="560.8" r="4.6"/>
<circle cx="418.8" cy="578.4" r="4.6"/>
<circle cx="419.5" cy="561.2" r="4.6"/>
<circle cx="419.7" cy="550.9" r="4.6"/>
<circle cx="420.6" cy="561.9" r="4.6"/>
<circle cx="421.1" cy="568.5" r="4.6"/>
<circle cx="421.3" cy="562.8" r="4.6"/>
<circle cx="422.0" cy="543.3" r="4.6"/>
<circle cx="422.7" cy="567.5" r="4.6"/>
<circle cx="422.7" cy="544.6" r="4.6"/>
<circle cx="423.5" cy="562.9" r="4.6"/>
<circle cx="423.9" cy="573.4" r="4.6"/>
<circle cx="424.3" cy="551.1" r="4.6"/>
<circle cx="424.8" cy="554.5" r="4.6"/>
<circle cx="425.2" cy="584.5" r="4.6"/>
<circle cx="426.0" cy="572.7" r="4.6"/>
<circle cx="426.3" cy="542.6" r="4.6"/>
<circle cx="426.9" cy="545.3" r="4.6"/>
<circle cx="427.6" cy="552.9" r="4.6"/>
<circle cx="427.8" cy="579.8" r="4.6"/>
<circle cx="428.3" cy="559.8" r="4.6"/>
<circle cx="429.1" cy="564.4" r="4.6"/>
<circle cx="429.4" cy="569.4" r="4.6"/>
<circle cx="429.9" cy="549.2" r="4.6"/>
<circle cx="430.3" cy="554.6" r="4.6"/>
<circle cx="431.0" cy="560.1" r="4.6"/>
<circle cx="431.3" cy="547.4" r="4.6"/>
<circle cx="431.9" cy="541.3" r="4.6"/>
<circle cx="432.3" cy="579.1" r="4.6"/>
<circle cx="432.7" cy="549.9" r="4.6"/>
<circle cx="433.6" cy="549.7" r="4.6"/>
<circle cx="434.0" cy="552.5" r="4.6"/>
<circle cx="434.6" cy="570.0" r="4.6"/>
<circle cx="434.8" cy="549.6" r="4.6"/>
<circle cx="435.2" cy="554.8" r="4.6"/>
<circle cx="435.7" cy="559.7" r="4.6"/>
<circle cx="436.3" cy="580.1" r="4.6"/>
<circle cx="436.8" cy="554.4" r="4.6"/>
<circle cx="437.2" cy="557.2" r="4.6"/>
<circle cx="437.7" cy="558.6" r="4.6"/>
<circle cx="438.2" cy="544.5" r="4.6"/>
<circle cx="439.0" cy="556.5" r="4.6"/>
<circle cx="439.3" cy="569.9" r="4.6"/>
<circle cx="440.0" cy="539.4" r="4.6"/>
<circle cx="440.1" cy="556.2" r="4.6"/>
<circle cx="440.7" cy="561.1" r="4.6"/>
<circle cx="441.5" cy="552.4" r="4.6"/>
<circle cx="441.6" cy="545.7" r="4.6"/>
<circle cx="442.1" cy="545.3" r="4.6"/>
<circle cx="442.8" cy="576.1" r="4.6"/>
<circle cx="443.2" cy="576.3" r="4.6"/>
<circle cx="443.7" cy="556.3" r="4.6"/>
<circle cx="444.4" cy="542.2" r="4.6"/>
<circle cx="444.9" cy="541.8" r="4.6"/>
<circle cx="445.1" cy="549.9" r="4.6"/>
<circle cx="445.8" cy="562.7" r="4.6"/>
<circle cx="446.3" cy="536.7" r="4.6"/>
<circle cx="447.0" cy="538.1" r="4.6"/>
<circle cx="447.1" cy="553.5" r="4.6"/>
<circle cx="447.6" cy="553.1" r="4.6"/>
<circle cx="448.3" cy="541.3" r="4.6"/>
<circle cx="448.5" cy="557.0" r="4.6"/>
<circle cx="449.4" cy="543.4" r="4.6"/>
<circle cx="450.0" cy="547.5" r="4.6"/>
<circle cx="450.2" cy="547.1" r="4.6"/>
<circle cx="450.9" cy="535.8" r="4.6"/>
<circle cx="451.1" cy="541.2" r="4.6"/>
<circle cx="452.0" cy="536.9" r="4.6"/>
<circle cx="452.1" cy="539.1" r="4.6"/>
<circle cx="452.5" cy="541.3" r="4.6"/>
<circle cx="453.0" cy="549.0" r="4.6"/>
<circle cx="453.7" cy="540.8" r="4.6"/>
<circle cx="454.0" cy="578.1" r="4.6"/>
<circle cx="455.0" cy="578.8" r="4.6"/>
<circle cx="455.3" cy="551.4" r="4.6"/>
<circle cx="455.8" cy="544.1" r="4.6"/>
<circle cx="456.3" cy="536.4" r="4.6"/>
<circle cx="456.7" cy="555.7" r="4.6"/>
<circle cx="457.4" cy="575.5" r="4.6"/>
<circle cx="457.8" cy="550.0" r="4.6"/>
<circle cx="458.2" cy="577.7" r="4.6"/>
<circle cx="458.6" cy="564.8" r="4.6"/>
<circle cx="459.0" cy="542.9" r="4.6"/>
<circle cx="459.6" cy="543.7" r="4.6"/>
<circle cx="460.1" cy="549.0" r="4.6"/>
<circle cx="460.5" cy="554.3" r="4.6"/>
<circle cx="461.4" cy="564.8" r="4.6"/>
<circle cx="461.6" cy="546.9" r="4.6"/>
<circle cx="462.2" cy="564.2" r="4.6"/>
<circle cx="462.5" cy="550.9" r="4.6"/>
<circle cx="463.2" cy="542.8" r="4.6"/>
<circle cx="463.7" cy="561.8" r="4.6"/>
<circle cx="464.0" cy="552.5" r="4.6"/>
<circle cx="464.9" cy="546.3" r="4.6"/>
<circle cx="465.0" cy="557.5" r="4.6"/>
<circle cx="465.5" cy="558.6" r="4.6"/>
<circle cx="466.3" cy="554.0" r="4.6"/>
<circle cx="466.6" cy="565.2" r="4.6"/>
<circle cx="467.3" cy="550.9" r="4.6"/>
<circle cx="467.5" cy="546.4" r="4.6"/>
<circle cx="468.1" cy="564.0" r="4.6"/>
<circle cx="468.7" cy="548.8" r="4.6"/>
<circle cx="469.3" cy="542.2" r="4.6"/>
<circle cx="469.8" cy="535.0" r="4.6"/>
<circle cx="470.0" cy="572.7" r="4.6"/>
<circle cx="470.6" cy="543.0" r="4.6"/>
<circle cx="471.1" cy="550.8" r="4.6"/>
<circle cx="471.7" cy="534.4" r="4.6"/>
<circle cx="472.0" cy="548.4" r="4.6"/>
<circle cx="472.8" cy="548.7" r="4.6"/>
<circle cx="473.2" cy="563.2" r="4.6"/>
<circle cx="473.4" cy="575.5" r="4.6"/>
<circle cx="474.0" cy="573.2" r="4.6"/>
<circle cx="474.5" cy="551.2" r="4.6"/>
<circle cx="475.3" cy="549.1" r="4.6"/>
<circle cx="475.6" cy="546.2" r="4.6"/>
<circle cx="476.2" cy="537.5" r="4.6"/>
<circle cx="476.8" cy="534.7" r="4.6"/>
<circle cx="477.0" cy="560.4" r="4.6"/>
<circle cx="477.8" cy="557.0" r="4.6"/>
<circle cx="478.0" cy="547.7" r="4.6"/>
<circle cx="478.3" cy="548.3" r="4.6"/>
<circle cx="478.9" cy="552.1" r="4.6"/>
<circle cx="479.7" cy="550.7" r="4.6"/>
<circle cx="480.0" cy="540.4" r="4.6"/>
<circle cx="480.7" cy="573.5" r="4.6"/>
<circle cx="481.1" cy="534.0" r="4.6"/>
<circle cx="481.7" cy="541.0" r="4.6"/>
<circle cx="482.0" cy="542.1" r="4.6"/>
<circle cx="482.6" cy="555.5" r="4.6"/>
<circle cx="483.1" cy="540.5" r="4.6"/>
<circle cx="483.5" cy="531.0" r="4.6"/>
<circle cx="484.0" cy="538.7" r="4.6"/>
<circle cx="484.7" cy="542.3" r="4.6"/>
<circle cx="485.2" cy="543.0" r="4.6"/>
<circle cx="485.5" cy="571.3" r="4.6"/>
<circle cx="485.8" cy="558.0" r="4.6"/>
<circle cx="486.7" cy="532.9" r="4.6"/>
<circle cx="487.0" cy="543.1" r="4.6"/>
<circle cx="487.8" cy="533.5" r="4.6"/>
<circle cx="488.1" cy="547.6" r="4.6"/>
<circle cx="488.4" cy="551.1" r="4.6"/>
<circle cx="489.2" cy="548.6" r="4.6"/>
<circle cx="489.5" cy="559.3" r="4.6"/>
<circle cx="490.1" cy="569.4" r="4.6"/>
<circle cx="490.7" cy="530.4" r="4.6"/>
<circle cx="491.0" cy="544.6" r="4.6"/>
<circle cx="491.7" cy="566.0" r="4.6"/>
<circle cx="491.9" cy="536.3" r="4.6"/>
<circle cx="492.4" cy="553.2" r="4.6"/>
<circle cx="493.1" cy="548.3" r="4.6"/>
<circle cx="493.4" cy="549.9" r="4.6"/>
<circle cx="494.1" cy="539.5" r="4.6"/>
<circle cx="494.5" cy="546.9" r="4.6"/>
<circle cx="495.1" cy="534.9" r="4.6"/>
<circle cx="495.6" cy="546.7" r="4.6"/>
<circle cx="496.0" cy="561.2" r="4.6"/>
<circle cx="496.7" cy="531.0" r="4.6"/>
<circle cx="497.1" cy="538.7" r="4.6"/>
<circle cx="497.6" cy="534.1" r="4.6"/>
<circle cx="497.7" cy="535.2" r="4.6"/>
<circle cx="498.2" cy="544.6" r="4.6"/>
<circle cx="499.0" cy="529.6" r="4.6"/>
<circle cx="499.4" cy="537.6" r="4.6"/>
<circle cx="500.1" cy="539.4" r="4.6"/>
<circle cx="500.4" cy="544.7" r="4.6"/>
<circle cx="501.1" cy="536.5" r="4.6"/>
<circle cx="501.3" cy="548.5" r="4.6"/>
<circle cx="502.0" cy="528.6" r="4.6"/>
<circle cx="502.6" cy="532.7" r="4.6"/>
<circle cx="503.1" cy="540.3" r="4.6"/>
<circle cx="503.4" cy="558.6" r="4.6"/>
<circle cx="503.9" cy="545.7" r="4.6"/>
<circle cx="504.4" cy="572.7" r="4.6"/>
<circle cx="504.8" cy="558.7" r="4.6"/>
<circle cx="505.4" cy="534.1" r="4.6"/>
<circle cx="506.1" cy="547.4" r="4.6"/>
<circle cx="506.6" cy="541.2" r="4.6"/>
<circle cx="506.8" cy="569.0" r="4.6"/>
<circle cx="507.5" cy="530.8" r="4.6"/>
<circle cx="508.1" cy="545.8" r="4.6"/>
<circle cx="508.3" cy="535.4" r="4.6"/>
<circle cx="509.1" cy="548.3" r="4.6"/>
<circle cx="509.5" cy="539.2" r="4.6"/>
<circle cx="510.1" cy="533.8" r="4.6"/>
<circle cx="510.2" cy="553.2" r="4.6"/>
<circle cx="511.1" cy="539.4" r="4.6"/>
<circle cx="511.6" cy="537.4" r="4.6"/>
<circle cx="511.7" cy="547.1" r="4.6"/>
<circle cx="512.4" cy="560.2" r="4.6"/>
<circle cx="512.7" cy="540.6" r="4.6"/>
<circle cx="513.4" cy="531.0" r="4.6"/>
<circle cx="514.0" cy="548.0" r="4.6"/>
<circle cx="514.5" cy="556.6" r="4.6"/>
<circle cx="515.0" cy="537.7" r="4.6"/>
<circle cx="515.2" cy="551.5" r="4.6"/>
<circle cx="515.6" cy="530.8" r="4.6"/>
<circle cx="516.5" cy="540.5" r="4.6"/>
<circle cx="516.6" cy="530.8" r="4.6"/>
<circle cx="517.2" cy="561.3" r="4.6"/>
<circle cx="517.7" cy="541.8" r="4.6"/>
<circle cx="518.5" cy="542.7" r="4.6"/>
<circle cx="518.8" cy="553.0" r="4.6"/>
<circle cx="519.5" cy="533.1" r="4.6"/>
<circle cx="519.9" cy="535.4" r="4.6"/>
<circle cx="520.5" cy="532.7" r="4.6"/>
<circle cx="520.9" cy="533.6" r="4.6"/>
<circle cx="521.5" cy="532.5" r="4.6"/>
<circle cx="521.7" cy="532.3" r="4.6"/>
<circle cx="522.2" cy="545.4" r="4.6"/>
<circle cx="522.9" cy="540.7" r="4.6"/>
<circle cx="523.3" cy="545.1" r="4.6"/>
<circle cx="523.9" cy="538.8" r="4.6"/>
<circle cx="524.4" cy="547.2" r="4.6"/>
<circle cx="524.7" cy="527.6" r="4.6"/>
<circle cx="525.1" cy="540.1" r="4.6"/>
<circle cx="525.9" cy="538.5" r="4.6"/>
<circle cx="526.4" cy="547.5" r="4.6"/>
<circle cx="526.7" cy="528.7" r="4.6"/>
<circle cx="527.0" cy="542.4" r="4.6"/>
<circle cx="527.5" cy="542.9" r="4.6"/>
<circle cx="528.1" cy="528.8" r="4.6"/>
<circle cx="528.6" cy="559.5" r="4.6"/>
<circle cx="529.1" cy="544.7" r="4.6"/>
<circle cx="529.5" cy="527.0" r="4.6"/>
<circle cx="530.1" cy="545.5" r="4.6"/>
<circle cx="530.7" cy="544.0" r="4.6"/>
<circle cx="531.0" cy="562.1" r="4.6"/>
<circle cx="531.6" cy="548.5" r="4.6"/>
<circle cx="532.2" cy="542.7" r="4.6"/>
<circle cx="532.9" cy="534.5" r="4.6"/>
<circle cx="533.4" cy="541.9" r="4.6"/>
<circle cx="533.7" cy="525.8" r="4.6"/>
<circle cx="534.0" cy="549.0" r="4.6"/>
<circle cx="534.6" cy="544.5" r="4.6"/>
<circle cx="535.3" cy="536.6" r="4.6"/>
<circle cx="535.7" cy="524.5" r="4.6"/>
<circle cx="536.2" cy="559.2" r="4.6"/>
<circle cx="536.8" cy="525.6" r="4.6"/>
<circle cx="537.3" cy="532.9" r="4.6"/>
<circle cx="537.9" cy="559.9" r="4.6"/>
<circle cx="538.0" cy="552.8" r="4.6"/>
<circle cx="538.6" cy="539.5" r="4.6"/>
<circle cx="539.0" cy="534.6" r="4.6"/>
<circle cx="539.7" cy="541.6" r="4.6"/>
<circle cx="540.2" cy="532.2" r="4.6"/>
<circle cx="540.6" cy="533.9" r="4.6"/>
<circle cx="541.0" cy="558.0" r="4.6"/>
<circle cx="541.7" cy="565.3" r="4.6"/>
<circle cx="542.0" cy="549.7" r="4.6"/>
<circle cx="542.5" cy="548.4" r="4.6"/>
<circle cx="543.1" cy="530.3" r="4.6"/>
<circle cx="543.9" cy="540.6" r="4.6"/>
<circle cx="544.1" cy="542.4" r="4.6"/>
<circle cx="544.8" cy="547.9" r="4.6"/>
<circle cx="545.1" cy="556.8" r="4.6"/>
<circle cx="545.6" cy="544.1" r="4.6"/>
<circle cx="546.0" cy="527.9" r="4.6"/>
<circle cx="546.5" cy="565.3" r="4.6"/>
<circle cx="547.3" cy="543.7" r="4.6"/>
<circle cx="547.6" cy="528.3" r="4.6"/>
<circle cx="548.0" cy="545.7" r="4.6"/>
<circle cx="548.9" cy="539.5" r="4.6"/>
<circle cx="549.3" cy="529.1" r="4.6"/>
<circle cx="549.5" cy="562.3" r="4.6"/>
<circle cx="550.1" cy="547.8" r="4.6"/>
<circle cx="550.6" cy="524.5" r="4.6"/>
<circle cx="550.9" cy="525.9" r="4.6"/>
<circle cx="551.6" cy="557.0" r="4.6"/>
<circle cx="552.0" cy="522.8" r="4.6"/>
<circle cx="552.8" cy="540.1" r="4.6"/>
<circle cx="552.9" cy="557.7" r="4.6"/>
<circle cx="553.8" cy="532.1" r="4.6"/>
<circle cx="554.0" cy="536.3" r="4.6"/>
<circle cx="554.5" cy="527.1" r="4.6"/>
<circle cx="554.9" cy="565.3" r="4.6"/>
<circle cx="555.8" cy="538.8" r="4.6"/>
<circle cx="556.2" cy="541.8" r="4.6"/>
<circle cx="556.4" cy="526.0" r="4.6"/>
<circle cx="557.1" cy="526.8" r="4.6"/>
<circle cx="557.5" cy="546.4" r="4.6"/>
<circle cx="558.1" cy="526.3" r="4.6"/>
<circle cx="558.5" cy="525.6" r="4.6"/>
<circle cx="559.3" cy="539.6" r="4.6"/>
<circle cx="559.4" cy="526.3" r="4.6"/>
<circle cx="560.2" cy="566.4" r="4.6"/>
<circle cx="560.4" cy="525.6" r="4.6"/>
<circle cx="561.1" cy="541.4" r="4.6"/>
<circle cx="561.5" cy="526.2" r="4.6"/>
<circle cx="562.1" cy="560.9" r="4.6"/>
<circle cx="562.5" cy="535.9" r="4.6"/>
<circle cx="563.1" cy="546.3" r="4.6"/>
<circle cx="563.3" cy="531.7" r="4.6"/>
<circle cx="563.8" cy="562.3" r="4.6"/>
<circle cx="564.8" cy="524.9" r="4.6"/>
<circle cx="564.9" cy="533.1" r="4.6"/>
<circle cx="565.4" cy="531.1" r="4.6"/>
<circle cx="565.9" cy="525.6" r="4.6"/>
<circle cx="566.6" cy="523.4" r="4.6"/>
<circle cx="567.2" cy="531.9" r="4.6"/>
<circle cx="567.5" cy="530.7" r="4.6"/>
<circle cx="567.9" cy="533.1" r="4.6"/>
<circle cx="568.4" cy="539.2" r="4.6"/>
<circle cx="568.8" cy="521.4" r="4.6"/>
<circle cx="569.3" cy="540.8" r="4.6"/>
<circle cx="569.8" cy="549.2" r="4.6"/>
<circle cx="570.4" cy="540.1" r="4.6"/>
<circle cx="571.2" cy="556.5" r="4.6"/>
<circle cx="571.3" cy="540.4" r="4.6"/>
<circle cx="572.0" cy="538.1" r="4.6"/>
<circle cx="572.3" cy="547.9" r="4.6"/>
<circle cx="572.7" cy="536.6" r="4.6"/>
<circle cx="573.6" cy="543.3" r="4.6"/>
<circle cx="573.8" cy="525.2" r="4.6"/>
<circle cx="574.3" cy="549.7" r="4.6"/>
<circle cx="575.1" cy="535.0" r="4.6"/>
<circle cx="575.3" cy="534.6" r="4.6"/>
<circle cx="575.8" cy="528.0" r="4.6"/>
<circle cx="576.7" cy="549.0" r="4.6"/>
<circle cx="576.8" cy="554.1" r="4.6"/>
<circle cx="577.6" cy="534.3" r="4.6"/>
<circle cx="577.8" cy="526.7" r="4.6"/>
<circle cx="578.5" cy="529.1" r="4.6"/>
<circle cx="578.8" cy="524.6" r="4.6"/>
<circle cx="579.3" cy="532.3" r="4.6"/>
<circle cx="580.1" cy="523.5" r="4.6"/>
<circle cx="580.6" cy="519.7" r="4.6"/>
<circle cx="580.8" cy="527.3" r="4.6"/>
<circle cx="581.5" cy="525.7" r="4.6"/>
<circle cx="581.7" cy="551.6" r="4.6"/>
<circle cx="582.3" cy="549.7" r="4.6"/>
<circle cx="582.7" cy="521.4" r="4.6"/>
<circle cx="583.5" cy="530.0" r="4.6"/>
<circle cx="584.0" cy="538.3" r="4.6"/>
<circle cx="584.5" cy="527.1" r="4.6"/>
<circle cx="585.0" cy="526.9" r="4.6"/>
<circle cx="585.3" cy="530.3" r="4.6"/>
<circle cx="585.7" cy="547.0" r="4.6"/>
<circle cx="586.1" cy="527.2" r="4.6"/>
<circle cx="586.8" cy="520.6" r="4.6"/>
<circle cx="587.6" cy="542.1" r="4.6"/>
<circle cx="587.8" cy="548.6" r="4.6"/>
<circle cx="588.4" cy="530.2" r="4.6"/>
<circle cx="589.1" cy="533.3" r="4.6"/>
<circle cx="589.5" cy="526.9" r="4.6"/>
<circle cx="590.0" cy="526.4" r="4.6"/>
<circle cx="590.4" cy="533.2" r="4.6"/>
<circle cx="590.7" cy="530.7" r="4.6"/>
<circle cx="591.5" cy="519.7" r="4.6"/>
<circle cx="591.8" cy="550.0" r="4.6"/>
<circle cx="592.4" cy="541.0" r="4.6"/>
<circle cx="592.7" cy="537.7" r="4.6"/>
<circle cx="593.6" cy="525.8" r="4.6"/>
<circle cx="593.7" cy="536.1" r="4.6"/>
<circle cx="594.5" cy="537.0" r="4.6"/>
<circle cx="595.0" cy="552.8" r="4.6"/>
<circle cx="595.2" cy="525.7" r="4.6"/>
<circle cx="596.0" cy="520.8" r="4.6"/>
<circle cx="596.4" cy="538.3" r="4.6"/>
<circle cx="596.9" cy="536.0" r="4.6"/>
<circle cx="597.2" cy="544.0" r="4.6"/>
<circle cx="597.7" cy="520.2" r="4.6"/>
<circle cx="598.2" cy="527.0" r="4.6"/>
<circle cx="598.8" cy="520.4" r="4.6"/>
<circle cx="599.4" cy="537.8" r="4.6"/>
<circle cx="599.9" cy="539.9" r="4.6"/>
<circle cx="600.4" cy="520.5" r="4.6"/>
<circle cx="600.7" cy="541.1" r="4.6"/>
<circle cx="601.2" cy="541.6" r="4.6"/>
<circle cx="601.9" cy="521.6" r="4.6"/>
<circle cx="602.5" cy="544.0" r="4.6"/>
<circle cx="602.6" cy="531.8" r="4.6"/>
<circle cx="603.2" cy="550.2" r="4.6"/>
<circle cx="603.7" cy="534.6" r="4.6"/>
<circle cx="604.5" cy="527.1" r="4.6"/>
<circle cx="604.5" cy="542.2" r="4.6"/>
<circle cx="605.5" cy="526.2" r="4.6"/>
<circle cx="605.9" cy="526.5" r="4.6"/>
<circle cx="606.2" cy="521.6" r="4.6"/>
<circle cx="606.8" cy="526.0" r="4.6"/>
<circle cx="607.2" cy="540.9" r="4.6"/>
<circle cx="607.8" cy="531.7" r="4.6"/>
<circle cx="608.2" cy="535.2" r="4.6"/>
<circle cx="608.9" cy="535.7" r="4.6"/>
<circle cx="609.2" cy="521.9" r="4.6"/>
<circle cx="609.9" cy="525.6" r="4.6"/>
<circle cx="610.3" cy="528.8" r="4.6"/>
<circle cx="610.7" cy="536.0" r="4.6"/>
<circle cx="611.5" cy="531.0" r="4.6"/>
<circle cx="611.6" cy="523.1" r="4.6"/>
<circle cx="612.4" cy="518.5" r="4.6"/>
<circle cx="612.9" cy="531.2" r="4.6"/>
<circle cx="613.4" cy="534.9" r="4.6"/>
<circle cx="613.8" cy="516.7" r="4.6"/>
<circle cx="614.3" cy="535.0" r="4.6"/>
<circle cx="614.9" cy="524.5" r="4.6"/>
<circle cx="615.2" cy="519.0" r="4.6"/>
<circle cx="615.9" cy="531.8" r="4.6"/>
<circle cx="616.3" cy="522.7" r="4.6"/>
<circle cx="616.9" cy="527.2" r="4.6"/>
<circle cx="617.2" cy="537.8" r="4.6"/>
<circle cx="617.8" cy="519.8" r="4.6"/>
<circle cx="618.0" cy="535.5" r="4.6"/>
<circle cx="618.5" cy="516.2" r="4.6"/>
<circle cx="619.0" cy="531.9" r="4.6"/>
<circle cx="619.8" cy="536.1" r="4.6"/>
<circle cx="620.1" cy="527.4" r="4.6"/>
<circle cx="620.9" cy="534.3" r="4.6"/>
<circle cx="620.9" cy="517.9" r="4.6"/>
<circle cx="621.5" cy="524.3" r="4.6"/>
<circle cx="622.3" cy="521.2" r="4.6"/>
<circle cx="622.6" cy="553.3" r="4.6"/>
<circle cx="623.0" cy="530.9" r="4.6"/>
<circle cx="623.8" cy="514.8" r="4.6"/>
<circle cx="624.0" cy="537.5" r="4.6"/>
<circle cx="624.9" cy="542.6" r="4.6"/>
<circle cx="625.0" cy="534.9" r="4.6"/>
<circle cx="625.8" cy="536.2" r="4.6"/>
<circle cx="626.1" cy="557.4" r="4.6"/>
<circle cx="626.8" cy="533.1" r="4.6"/>
<circle cx="627.0" cy="520.3" r="4.6"/>
<circle cx="627.8" cy="528.9" r="4.6"/>
<circle cx="628.0" cy="518.7" r="4.6"/>
<circle cx="628.6" cy="538.3" r="4.6"/>
<circle cx="629.2" cy="527.9" r="4.6"/>
<circle cx="629.6" cy="520.4" r="4.6"/>
<circle cx="630.2" cy="516.1" r="4.6"/>
<circle cx="630.7" cy="546.0" r="4.6"/>
<circle cx="631.0" cy="523.1" r="4.6"/>
<circle cx="631.3" cy="550.6" r="4.6"/>
<circle cx="632.2" cy="558.7" r="4.6"/>
<circle cx="632.6" cy="532.9" r="4.6"/>
<circle cx="633.1" cy="525.6" r="4.6"/>
<circle cx="633.6" cy="527.8" r="4.6"/>
<circle cx="634.3" cy="531.3" r="4.6"/>
<circle cx="634.5" cy="515.6" r="4.6"/>
<circle cx="635.3" cy="543.4" r="4.6"/>
<circle cx="635.4" cy="527.1" r="4.6"/>
<circle cx="636.2" cy="525.1" r="4.6"/>
<circle cx="636.8" cy="547.8" r="4.6"/>
<circle cx="636.9" cy="552.0" r="4.6"/>
<circle cx="637.7" cy="526.5" r="4.6"/>
<circle cx="637.9" cy="534.2" r="4.6"/>
<circle cx="638.3" cy="518.0" r="4.6"/>
<circle cx="639.0" cy="525.2" r="4.6"/>
<circle cx="639.6" cy="522.5" r="4.6"/>
<circle cx="639.9" cy="527.1" r="4.6"/>
<circle cx="640.8" cy="519.4" r="4.6"/>
<circle cx="640.8" cy="528.0" r="4.6"/>
<circle cx="641.4" cy="520.7" r="4.6"/>
<circle cx="641.9" cy="532.7" r="4.6"/>
<circle cx="642.5" cy="524.1" r="4.6"/>
<circle cx="642.9" cy="515.9" r="4.6"/>
<circle cx="643.3" cy="517.2" r="4.6"/>
</g>
<polyline points="97.2,789.5 98.1,779.3 98.9,770.8 99.8,763.5 100.6,757.1 101.5,751.4 102.3,746.2 103.2,741.5 104.0,737.1 104.9,733.1 105.7,729.4 106.6,725.9 107.4,722.6 108.3,719.6 109.1,716.7 110.0,713.9 110.8,711.3 111.7,708.8 112.5,706.4 113.4,704.1 114.2,701.9 115.1,699.8 115.9,697.8 116.8,695.8 117.6,694.0 118.5,692.2 119.3,690.4 120.2,688.7 121.0,687.1 121.9,685.5 122.7,683.9 123.6,682.4 124.4,680.9 125.3,679.5 126.1,678.1 127.0,676.8 127.8,675.5 128.7,674.2 129.5,672.9 130.4,671.7 135.7,664.7 140.9,658.5 146.2,652.9 151.4,647.9 156.7,643.3 162.0,639.1 167.2,635.1 172.5,631.5 177.7,628.1 183.0,624.9 188.3,621.9 193.5,619.0 198.8,616.3 204.0,613.7 209.3,611.2 214.6,608.9 219.8,606.6 225.1,604.5 230.4,602.4 235.6,600.4 240.9,598.5 246.1,596.6 251.4,594.8 256.7,593.1 261.9,591.4 267.2,589.8 272.4,588.2 277.7,586.7 283.0,585.2 288.2,583.7 293.5,582.3 298.7,580.9 304.0,579.6 309.3,578.3 314.5,577.0 319.8,575.7 325.0,574.5 330.3,573.3 335.6,572.2 340.8,571.0 346.1,569.9 351.3,568.8 356.6,567.7 361.9,566.7 367.1,565.7 372.4,564.7 377.6,563.7 382.9,562.7 388.2,561.7 393.4,560.8 398.7,559.9 404.0,559.0 409.2,558.1 414.5,557.2 419.7,556.3 425.0,555.5 430.3,554.7 435.5,553.8 440.8,553.0 446.0,552.2 451.3,551.4 456.6,550.7 461.8,549.9 467.1,549.1 472.3,548.4 477.6,547.7 482.9,547.0 488.1,546.2 493.4,545.5 498.6,544.8 503.9,544.2 509.2,543.5 514.4,542.8 519.7,542.2 524.9,541.5 530.2,540.9 535.5,540.2 540.7,539.6 546.0,539.0 551.2,538.4 556.5,537.8 561.8,537.2 567.0,536.6 572.3,536.0 577.6,535.4 582.8,534.8 588.1,534.3 593.3,533.7 598.6,533.1 603.9,532.6 609.1,532.0 614.4,531.5 619.6,531.0 624.9,530.4 630.2,529.9 635.4,529.4 640.7,528.9 645.9,528.4 651.2,527.9" fill="none" stroke="#f00" stroke-width="3.3" stroke-dasharray="12.15 5.085"/>
<g stroke="#000" stroke-width="1.8" fill="none">
<rect x="69.7" y="502.3" width="609.30" height="302.80"/>
<line x1="93.2" x2="93.2" y1="805.1" y2="793.3000000000001"/>
<line x1="167.6" x2="167.6" y1="805.1" y2="793.3000000000001"/>
<line x1="242.0" x2="242.0" y1="805.1" y2="793.3000000000001"/>
<line x1="316.4" x2="316.4" y1="805.1" y2="793.3000000000001"/>
<line x1="390.8" x2="390.8" y1="805.1" y2="793.3000000000001"/>
<line x1="465.2" x2="465.2" y1="805.1" y2="793.3000000000001"/>
<line x1="539.6" x2="539.6" y1="805.1" y2="793.3000000000001"/>
<line x1="614.0" x2="614.0" y1="805.1" y2="793.3000000000001"/>
<line y1="767.4" y2="767.4" x1="69.7" x2="81.5"/>
<line y1="714.3" y2="714.3" x1="69.7" x2="81.5"/>
<line y1="661.2" y2="661.2" x1="69.7" x2="81.5"/>
<line y1="608.1" y2="608.1" x1="69.7" x2="81.5"/>
<line y1="555.0" y2="555.0" x1="69.7" x2="81.5"/>
</g>
<g font-family="'Liberation Sans',Arial,sans-serif" font-size="16" fill="#000">
<g text-anchor="middle">
<text x="93.2" y="827.8">0</text>
<text x="167.6" y="827.8">20</text>
<text x="242.0" y="827.8">40</text>
<text x="316.4" y="827.8">60</text>
<text x="390.8" y="827.8">80</text>
<text x="465.2" y="827.8">100</text>
<text x="539.6" y="827.8">120</text>
<text x="614.0" y="827.8">140</text>
</g><g text-anchor="end">
<text x="58.1" y="773.5">5</text>
<text x="58.1" y="720.4">6</text>
<text x="58.1" y="667.3">7</text>
<text x="58.1" y="614.2">8</text>
<text x="58.1" y="561.1">9</text>
</g>
<text x="130" y="529.1" font-size="16.25">transit spectra datas</text>
</g>
<circle cx="100.5" cy="524.1" r="4.6" fill="#fda342" fill-opacity="0.42"/>
<line x1="84" x2="116" y1="547.4" y2="547.4" stroke="#f00" stroke-width="3.3" stroke-dasharray="12.15 5.085"/>
<g font-size="16">
<text y="552.7" class="m" font-family="'DejaVu Sans',sans-serif" font-style="italic"><tspan x="130.2">f</tspan><tspan x="141.2">π</tspan><tspan x="243.2">c</tspan></text>
<text y="552.7" class="m" font-family="'DejaVu Sans',sans-serif"><tspan x="160.7">=</tspan><tspan x="179.6">log</tspan><tspan x="225.8">+</tspan></text>
<text y="554.9000000000001" class="m" font-family="'DejaVu Sans',sans-serif" font-size="11.2"><tspan x="151.2">1</tspan><tspan x="215.8">2</tspan></text>
<text y="552.7" class="m" font-family="'DejaVu Sans',sans-serif" font-style="italic"><tspan x="206.2">π</tspan></text>
</g>
<g font-size="19.35"><text y="481" class="m" font-family="'DejaVu Sans',sans-serif" font-style="italic"><tspan x="246.8">f</tspan><tspan x="260.2">π</tspan><tspan x="479.3">π</tspan></text><text y="481" x="287.2" font-family="'Liberation Sans',Arial,sans-serif">values with respect to</text><text y="484" class="m" font-family="'DejaVu Sans',sans-serif" font-size="13.5"><tspan x="272.0">1</tspan><tspan x="491.2">2</tspan></text></g>
<text x="363.2" y="855.8" font-size="19.2"><tspan class="m" font-family="'DejaVu Sans',sans-serif" font-style="italic">π</tspan><tspan class="m" font-family="'DejaVu Sans',sans-serif" font-size="13.44" dy="2.6">2</tspan></text>
<g transform="translate(30.8 670.5) rotate(-90)" font-size="19.2"><text x="-0.8" y="0" class="m" font-family="'DejaVu Sans',sans-serif" font-style="italic">f</text><text x="12.86" y="0" class="m" font-family="'DejaVu Sans',sans-serif" font-style="italic">π</text><text x="24.0" y="3.6" class="m" font-family="'DejaVu Sans',sans-serif" font-size="13.44">1</text></g>
</svg>
</body></html>
